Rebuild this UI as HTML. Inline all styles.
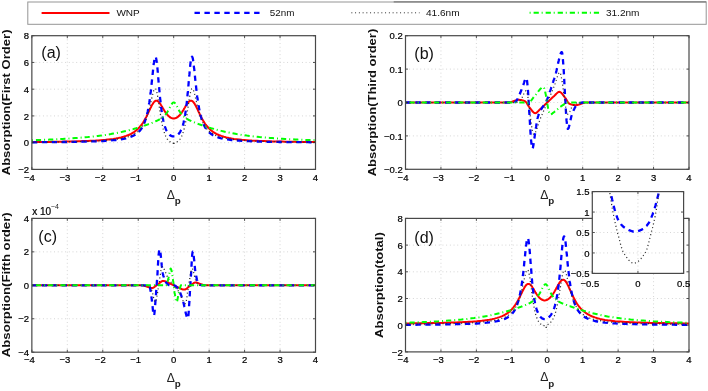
<!DOCTYPE html>
<html><head><meta charset="utf-8"><style>html,body{margin:0;padding:0;background:#fff;overflow:hidden;width:708px;height:391px;}
svg{display:block;will-change:transform;filter:blur(0.35px);}
text{font-family:'Liberation Sans', sans-serif;fill:#1a1a1a;}
.tk{font-size:9.5px;fill:#000;stroke:#000;stroke-width:0.22px;}
.tks{font-size:7px;}
.lg{font-size:9.6px;fill:#111;}
.pl{font-size:16px;fill:#111;}
.yl{font-size:11.3px;font-weight:bold;fill:#111;}
.dl{font-size:12.2px;fill:#222;}
.ds{font-size:9.8px;font-weight:bold;fill:#222;}
</style></head><body>
<svg width="708" height="391" viewBox="0 0 708 391"><defs><clipPath id="cA"><rect x="31.86" y="35.7" width="283.64" height="133.7"/></clipPath><clipPath id="cB"><rect x="405.5" y="35.7" width="283.5" height="133.60000000000002"/></clipPath><clipPath id="cC"><rect x="31.86" y="218.4" width="283.64" height="133.79999999999998"/></clipPath><clipPath id="cD"><rect x="405.5" y="218.4" width="283.5" height="133.49999999999997"/></clipPath><clipPath id="cI"><rect x="592.3" y="191.6" width="91.30000000000007" height="81.79999999999998"/></clipPath></defs><rect width="708" height="391" fill="#fff"/><rect x="31.86" y="35.7" width="283.64" height="133.7" fill="#fff"/><path d="M67.31 35.7V169.4 M102.77 35.7V169.4 M138.22 35.7V169.4 M173.68 35.7V169.4 M209.13 35.7V169.4 M244.59 35.7V169.4 M280.05 35.7V169.4 M31.86 142.66H315.5 M31.86 115.92H315.5 M31.86 89.18H315.5 M31.86 62.44H315.5" stroke="#b4b4b4" stroke-width="0.6" stroke-dasharray="0.9 2.8" fill="none"/><polyline points="31.9,142.1 34.4,142.0 37.0,142.0 39.5,142.0 42.0,142.0 44.6,141.9 47.1,141.9 49.7,141.9 52.2,141.8 54.8,141.8 57.3,141.8 59.9,141.7 62.4,141.7 65.0,141.6 67.5,141.6 70.0,141.5 72.6,141.5 75.1,141.4 77.7,141.3 80.2,141.2 82.8,141.1 85.3,141.0 87.9,140.9 90.4,140.8 93.0,140.7 95.5,140.6 98.0,140.4 100.6,140.2 103.1,140.0 105.7,139.8 108.2,139.5 110.8,139.2 113.3,138.9 115.9,138.5 118.4,138.0 121.0,137.4 123.5,136.7 126.0,135.9 128.6,135.0 131.1,133.8 131.3,133.6 131.6,133.5 131.8,133.4 132.0,133.3 132.2,133.2 132.4,133.0 132.6,132.9 132.8,132.8 133.1,132.7 133.3,132.5 133.5,132.4 133.7,132.3 133.9,132.1 134.1,132.0 134.3,131.8 134.5,131.7 134.8,131.5 135.0,131.4 135.2,131.2 135.4,131.0 135.6,130.9 135.8,130.7 136.0,130.5 136.3,130.4 136.5,130.2 136.7,130.0 136.9,129.8 137.1,129.6 137.3,129.4 137.5,129.2 137.7,129.0 138.0,128.8 138.2,128.6 138.4,128.4 138.6,128.2 138.8,128.0 139.0,127.7 139.2,127.5 139.5,127.3 139.7,127.0 139.9,126.8 140.1,126.5 140.3,126.3 140.5,126.0 140.7,125.8 140.9,125.5 141.2,125.2 141.4,124.9 141.6,124.6 141.8,124.4 142.0,124.1 142.2,123.8 142.4,123.4 142.7,123.1 142.9,122.8 143.1,122.5 143.3,122.1 143.5,121.8 143.7,121.5 143.9,121.1 144.1,120.8 144.4,120.4 144.6,120.0 144.8,119.6 145.0,119.3 145.2,118.9 145.4,118.5 145.6,118.1 145.8,117.7 146.1,117.3 146.3,116.9 146.5,116.4 146.7,116.0 146.9,115.6 147.1,115.2 147.3,114.7 147.6,114.3 147.8,113.8 148.0,113.4 148.2,112.9 148.4,112.5 148.6,112.0 148.8,111.6 149.0,111.1 149.3,110.7 149.5,110.2 149.7,109.7 149.9,109.3 150.1,108.8 150.3,108.4 150.5,108.0 150.8,107.5 151.0,107.1 151.2,106.7 151.4,106.2 151.6,105.8 151.8,105.4 152.0,105.0 152.2,104.7 152.5,104.3 152.7,103.9 152.9,103.6 153.1,103.3 153.3,103.0 153.5,102.7 153.7,102.4 154.0,102.1 154.2,101.9 154.4,101.7 154.6,101.5 154.8,101.3 155.0,101.1 155.2,101.0 155.4,100.9 155.7,100.8 155.9,100.7 156.1,100.7 156.3,100.7 156.5,100.7 156.7,100.7 156.9,100.7 157.2,100.8 157.4,100.9 157.6,101.0 157.8,101.1 158.0,101.3 158.2,101.5 158.4,101.6 158.6,101.8 158.9,102.1 159.1,102.3 159.3,102.6 159.5,102.8 159.7,103.1 159.9,103.4 160.1,103.7 160.4,104.0 160.6,104.3 160.8,104.7 161.0,105.0 161.2,105.3 161.4,105.7 161.6,106.0 161.8,106.4 162.1,106.7 162.3,107.1 162.5,107.5 162.7,107.8 162.9,108.2 163.1,108.6 163.3,108.9 163.6,109.3 163.8,109.6 164.0,110.0 164.2,110.3 164.4,110.7 164.6,111.0 164.8,111.3 165.0,111.7 165.3,112.0 165.5,112.3 165.7,112.6 165.9,112.9 166.1,113.2 166.3,113.5 166.5,113.8 166.7,114.0 167.0,114.3 167.2,114.6 167.4,114.8 167.6,115.1 167.8,115.3 168.0,115.5 168.2,115.7 168.5,116.0 168.7,116.2 168.9,116.3 169.1,116.5 169.3,116.7 169.5,116.9 169.7,117.0 169.9,117.2 170.2,117.3 170.4,117.5 170.6,117.6 170.8,117.7 171.0,117.8 171.2,117.9 171.4,118.0 171.7,118.1 171.9,118.2 172.1,118.2 172.3,118.3 172.5,118.3 172.7,118.4 172.9,118.4 173.1,118.4 173.4,118.5 173.6,118.5 173.8,118.5 174.0,118.5 174.2,118.4 174.4,118.4 174.6,118.4 174.9,118.3 175.1,118.3 175.3,118.2 175.5,118.2 175.7,118.1 175.9,118.0 176.1,117.9 176.3,117.8 176.6,117.7 176.8,117.6 177.0,117.5 177.2,117.3 177.4,117.2 177.6,117.0 177.8,116.9 178.1,116.7 178.3,116.5 178.5,116.3 178.7,116.2 178.9,116.0 179.1,115.7 179.3,115.5 179.5,115.3 179.8,115.1 180.0,114.8 180.2,114.6 180.4,114.3 180.6,114.0 180.8,113.8 181.0,113.5 181.3,113.2 181.5,112.9 181.7,112.6 181.9,112.3 182.1,112.0 182.3,111.7 182.5,111.3 182.7,111.0 183.0,110.7 183.2,110.3 183.4,110.0 183.6,109.6 183.8,109.3 184.0,108.9 184.2,108.6 184.4,108.2 184.7,107.8 184.9,107.5 185.1,107.1 185.3,106.7 185.5,106.4 185.7,106.0 185.9,105.7 186.2,105.3 186.4,105.0 186.6,104.7 186.8,104.3 187.0,104.0 187.2,103.7 187.4,103.4 187.6,103.1 187.9,102.8 188.1,102.6 188.3,102.3 188.5,102.1 188.7,101.8 188.9,101.6 189.1,101.5 189.4,101.3 189.6,101.1 189.8,101.0 190.0,100.9 190.2,100.8 190.4,100.7 190.6,100.7 190.8,100.7 191.1,100.7 191.3,100.7 191.5,100.7 191.7,100.8 191.9,100.9 192.1,101.0 192.3,101.1 192.6,101.3 192.8,101.5 193.0,101.7 193.2,101.9 193.4,102.1 193.6,102.4 193.8,102.7 194.0,103.0 194.3,103.3 194.5,103.6 194.7,103.9 194.9,104.3 195.1,104.7 195.3,105.0 195.5,105.4 195.8,105.8 196.0,106.2 196.2,106.7 196.4,107.1 196.6,107.5 196.8,108.0 197.0,108.4 197.2,108.8 197.5,109.3 197.7,109.7 197.9,110.2 198.1,110.7 198.3,111.1 198.5,111.6 198.7,112.0 199.0,112.5 199.2,112.9 199.4,113.4 199.6,113.8 199.8,114.3 200.0,114.7 200.2,115.2 200.4,115.6 200.7,116.0 200.9,116.4 201.1,116.9 201.3,117.3 201.5,117.7 201.7,118.1 201.9,118.5 202.2,118.9 202.4,119.3 202.6,119.6 202.8,120.0 203.0,120.4 203.2,120.8 203.4,121.1 203.6,121.5 203.9,121.8 204.1,122.1 204.3,122.5 204.5,122.8 204.7,123.1 204.9,123.4 205.1,123.8 205.3,124.1 205.6,124.4 205.8,124.6 206.0,124.9 206.2,125.2 206.4,125.5 206.6,125.8 206.8,126.0 207.1,126.3 207.3,126.5 207.5,126.8 207.7,127.0 207.9,127.3 208.1,127.5 208.3,127.7 208.5,128.0 208.8,128.2 209.0,128.4 209.2,128.6 209.4,128.8 209.6,129.0 209.8,129.2 210.0,129.4 210.3,129.6 210.5,129.8 210.7,130.0 210.9,130.2 211.1,130.4 211.3,130.5 211.5,130.7 211.7,130.9 212.0,131.0 212.2,131.2 212.4,131.4 212.6,131.5 212.8,131.7 213.0,131.8 213.2,132.0 213.5,132.1 213.7,132.3 213.9,132.4 214.1,132.5 214.3,132.7 214.5,132.8 214.7,132.9 214.9,133.0 215.2,133.2 215.4,133.3 215.6,133.4 215.8,133.5 216.0,133.6 216.2,133.8 218.8,135.0 221.3,135.9 223.9,136.7 226.4,137.4 229.0,138.0 231.5,138.5 234.0,138.9 236.6,139.2 239.1,139.5 241.7,139.8 244.2,140.0 246.8,140.2 249.3,140.4 251.9,140.6 254.4,140.7 257.0,140.8 259.5,140.9 262.0,141.0 264.6,141.1 267.1,141.2 269.7,141.3 272.2,141.4 274.8,141.5 277.3,141.5 279.9,141.6 282.4,141.6 285.0,141.7 287.5,141.7 290.0,141.8 292.6,141.8 295.1,141.8 297.7,141.9 300.2,141.9 302.8,141.9 305.3,142.0 307.9,142.0 310.4,142.0 313.0,142.0 315.5,142.1" fill="none" stroke="#ff0000" stroke-width="2" stroke-linejoin="round" clip-path="url(#cA)"/><polyline points="31.9,142.3 34.4,142.3 37.0,142.3 39.5,142.2 42.0,142.2 44.6,142.2 47.1,142.2 49.7,142.2 52.2,142.1 54.8,142.1 57.3,142.1 59.9,142.1 62.4,142.0 65.0,142.0 67.5,142.0 70.0,141.9 72.6,141.9 75.1,141.8 77.7,141.8 80.2,141.8 82.8,141.7 85.3,141.6 87.9,141.6 90.4,141.5 93.0,141.4 95.5,141.3 98.0,141.2 100.6,141.1 103.1,141.0 105.7,140.8 108.2,140.6 110.8,140.5 113.3,140.2 115.9,140.0 118.4,139.6 121.0,139.3 123.5,138.8 126.0,138.3 128.6,137.6 131.1,136.7 131.3,136.6 131.6,136.5 131.8,136.4 132.0,136.3 132.2,136.2 132.4,136.1 132.6,136.0 132.8,135.9 133.1,135.8 133.3,135.7 133.5,135.6 133.7,135.5 133.9,135.4 134.1,135.3 134.3,135.2 134.5,135.0 134.8,134.9 135.0,134.8 135.2,134.7 135.4,134.5 135.6,134.4 135.8,134.2 136.0,134.1 136.3,133.9 136.5,133.8 136.7,133.6 136.9,133.5 137.1,133.3 137.3,133.1 137.5,133.0 137.7,132.8 138.0,132.6 138.2,132.4 138.4,132.2 138.6,132.0 138.8,131.8 139.0,131.6 139.2,131.3 139.5,131.1 139.7,130.9 139.9,130.6 140.1,130.4 140.3,130.1 140.5,129.9 140.7,129.6 140.9,129.3 141.2,129.0 141.4,128.7 141.6,128.4 141.8,128.0 142.0,127.7 142.2,127.3 142.4,127.0 142.7,126.6 142.9,126.2 143.1,125.8 143.3,125.3 143.5,124.9 143.7,124.4 143.9,124.0 144.1,123.5 144.4,123.0 144.6,122.4 144.8,121.9 145.0,121.3 145.2,120.7 145.4,120.0 145.6,119.4 145.8,118.7 146.1,118.0 146.3,117.2 146.5,116.5 146.7,115.7 146.9,114.8 147.1,113.9 147.3,113.0 147.6,112.0 147.8,111.0 148.0,110.0 148.2,108.9 148.4,107.8 148.6,106.6 148.8,105.3 149.0,104.0 149.3,102.7 149.5,101.2 149.7,99.8 149.9,98.2 150.1,96.7 150.3,95.0 150.5,93.3 150.8,91.5 151.0,89.7 151.2,87.8 151.4,85.9 151.6,83.9 151.8,81.9 152.0,79.8 152.2,77.8 152.5,75.7 152.7,73.6 152.9,71.6 153.1,69.6 153.3,67.6 153.5,65.8 153.7,64.0 154.0,62.4 154.2,60.9 154.4,59.6 154.6,58.5 154.8,57.7 155.0,57.1 155.2,56.7 155.4,56.7 155.7,56.9 155.9,57.4 156.1,58.2 156.3,59.2 156.5,60.5 156.7,62.0 156.9,63.8 157.2,65.7 157.4,67.8 157.6,70.0 157.8,72.3 158.0,74.7 158.2,77.2 158.4,79.6 158.6,82.1 158.9,84.6 159.1,87.0 159.3,89.4 159.5,91.7 159.7,94.0 159.9,96.2 160.1,98.3 160.4,100.3 160.6,102.3 160.8,104.1 161.0,105.9 161.2,107.6 161.4,109.2 161.6,110.8 161.8,112.3 162.1,113.6 162.3,115.0 162.5,116.2 162.7,117.4 162.9,118.5 163.1,119.6 163.3,120.6 163.6,121.6 163.8,122.5 164.0,123.3 164.2,124.1 164.4,124.9 164.6,125.6 164.8,126.3 165.0,127.0 165.3,127.6 165.5,128.1 165.7,128.7 165.9,129.2 166.1,129.7 166.3,130.2 166.5,130.6 166.7,131.0 167.0,131.4 167.2,131.8 167.4,132.1 167.6,132.5 167.8,132.8 168.0,133.1 168.2,133.4 168.5,133.6 168.7,133.9 168.9,134.1 169.1,134.3 169.3,134.5 169.5,134.7 169.7,134.9 169.9,135.1 170.2,135.2 170.4,135.4 170.6,135.5 170.8,135.6 171.0,135.8 171.2,135.9 171.4,136.0 171.7,136.0 171.9,136.1 172.1,136.2 172.3,136.3 172.5,136.3 172.7,136.3 172.9,136.4 173.1,136.4 173.4,136.4 173.6,136.4 173.8,136.4 174.0,136.4 174.2,136.4 174.4,136.4 174.6,136.3 174.9,136.3 175.1,136.3 175.3,136.2 175.5,136.1 175.7,136.0 175.9,136.0 176.1,135.9 176.3,135.8 176.6,135.6 176.8,135.5 177.0,135.4 177.2,135.2 177.4,135.1 177.6,134.9 177.8,134.7 178.1,134.5 178.3,134.3 178.5,134.1 178.7,133.9 178.9,133.6 179.1,133.4 179.3,133.1 179.5,132.8 179.8,132.5 180.0,132.1 180.2,131.8 180.4,131.4 180.6,131.0 180.8,130.6 181.0,130.2 181.3,129.7 181.5,129.2 181.7,128.7 181.9,128.1 182.1,127.6 182.3,127.0 182.5,126.3 182.7,125.6 183.0,124.9 183.2,124.1 183.4,123.3 183.6,122.5 183.8,121.6 184.0,120.6 184.2,119.6 184.4,118.5 184.7,117.4 184.9,116.2 185.1,115.0 185.3,113.6 185.5,112.3 185.7,110.8 185.9,109.2 186.2,107.6 186.4,105.9 186.6,104.1 186.8,102.3 187.0,100.3 187.2,98.3 187.4,96.2 187.6,94.0 187.9,91.7 188.1,89.4 188.3,87.0 188.5,84.6 188.7,82.1 188.9,79.6 189.1,77.2 189.4,74.7 189.6,72.3 189.8,70.0 190.0,67.8 190.2,65.7 190.4,63.8 190.6,62.0 190.8,60.5 191.1,59.2 191.3,58.2 191.5,57.4 191.7,56.9 191.9,56.7 192.1,56.7 192.3,57.1 192.6,57.7 192.8,58.5 193.0,59.6 193.2,60.9 193.4,62.4 193.6,64.0 193.8,65.8 194.0,67.6 194.3,69.6 194.5,71.6 194.7,73.6 194.9,75.7 195.1,77.8 195.3,79.8 195.5,81.9 195.8,83.9 196.0,85.9 196.2,87.8 196.4,89.7 196.6,91.5 196.8,93.3 197.0,95.0 197.2,96.7 197.5,98.2 197.7,99.8 197.9,101.2 198.1,102.7 198.3,104.0 198.5,105.3 198.7,106.6 199.0,107.8 199.2,108.9 199.4,110.0 199.6,111.0 199.8,112.0 200.0,113.0 200.2,113.9 200.4,114.8 200.7,115.7 200.9,116.5 201.1,117.2 201.3,118.0 201.5,118.7 201.7,119.4 201.9,120.0 202.2,120.7 202.4,121.3 202.6,121.9 202.8,122.4 203.0,123.0 203.2,123.5 203.4,124.0 203.6,124.4 203.9,124.9 204.1,125.3 204.3,125.8 204.5,126.2 204.7,126.6 204.9,127.0 205.1,127.3 205.3,127.7 205.6,128.0 205.8,128.4 206.0,128.7 206.2,129.0 206.4,129.3 206.6,129.6 206.8,129.9 207.1,130.1 207.3,130.4 207.5,130.6 207.7,130.9 207.9,131.1 208.1,131.3 208.3,131.6 208.5,131.8 208.8,132.0 209.0,132.2 209.2,132.4 209.4,132.6 209.6,132.8 209.8,133.0 210.0,133.1 210.3,133.3 210.5,133.5 210.7,133.6 210.9,133.8 211.1,133.9 211.3,134.1 211.5,134.2 211.7,134.4 212.0,134.5 212.2,134.7 212.4,134.8 212.6,134.9 212.8,135.0 213.0,135.2 213.2,135.3 213.5,135.4 213.7,135.5 213.9,135.6 214.1,135.7 214.3,135.8 214.5,135.9 214.7,136.0 214.9,136.1 215.2,136.2 215.4,136.3 215.6,136.4 215.8,136.5 216.0,136.6 216.2,136.7 218.8,137.6 221.3,138.3 223.9,138.8 226.4,139.3 229.0,139.6 231.5,140.0 234.0,140.2 236.6,140.5 239.1,140.6 241.7,140.8 244.2,141.0 246.8,141.1 249.3,141.2 251.9,141.3 254.4,141.4 257.0,141.5 259.5,141.6 262.0,141.6 264.6,141.7 267.1,141.8 269.7,141.8 272.2,141.8 274.8,141.9 277.3,141.9 279.9,142.0 282.4,142.0 285.0,142.0 287.5,142.1 290.0,142.1 292.6,142.1 295.1,142.1 297.7,142.2 300.2,142.2 302.8,142.2 305.3,142.2 307.9,142.2 310.4,142.3 313.0,142.3 315.5,142.3" fill="none" stroke="#0000ff" stroke-width="2.3" stroke-dasharray="5.4 4.5" stroke-linejoin="round" clip-path="url(#cA)"/><polyline points="31.9,142.2 34.4,142.2 37.0,142.1 39.5,142.1 42.0,142.1 44.6,142.1 47.1,142.0 49.7,142.0 52.2,142.0 54.8,142.0 57.3,141.9 59.9,141.9 62.4,141.9 65.0,141.8 67.5,141.8 70.0,141.7 72.6,141.7 75.1,141.6 77.7,141.6 80.2,141.5 82.8,141.4 85.3,141.3 87.9,141.3 90.4,141.2 93.0,141.1 95.5,141.0 98.0,140.8 100.6,140.7 103.1,140.5 105.7,140.3 108.2,140.1 110.8,139.9 113.3,139.6 115.9,139.3 118.4,138.9 121.0,138.5 123.5,138.0 126.0,137.4 128.6,136.6 131.1,135.6 131.3,135.5 131.6,135.5 131.8,135.4 132.0,135.3 132.2,135.2 132.4,135.1 132.6,135.0 132.8,134.9 133.1,134.8 133.3,134.6 133.5,134.5 133.7,134.4 133.9,134.3 134.1,134.2 134.3,134.1 134.5,133.9 134.8,133.8 135.0,133.7 135.2,133.5 135.4,133.4 135.6,133.3 135.8,133.1 136.0,133.0 136.3,132.8 136.5,132.7 136.7,132.5 136.9,132.4 137.1,132.2 137.3,132.0 137.5,131.9 137.7,131.7 138.0,131.5 138.2,131.3 138.4,131.1 138.6,130.9 138.8,130.7 139.0,130.5 139.2,130.3 139.5,130.1 139.7,129.9 139.9,129.6 140.1,129.4 140.3,129.2 140.5,128.9 140.7,128.7 140.9,128.4 141.2,128.1 141.4,127.8 141.6,127.6 141.8,127.3 142.0,127.0 142.2,126.7 142.4,126.3 142.7,126.0 142.9,125.7 143.1,125.3 143.3,125.0 143.5,124.6 143.7,124.2 143.9,123.8 144.1,123.4 144.4,123.0 144.6,122.5 144.8,122.1 145.0,121.6 145.2,121.2 145.4,120.7 145.6,120.2 145.8,119.7 146.1,119.1 146.3,118.6 146.5,118.0 146.7,117.4 146.9,116.8 147.1,116.2 147.3,115.6 147.6,114.9 147.8,114.2 148.0,113.5 148.2,112.8 148.4,112.1 148.6,111.3 148.8,110.5 149.0,109.7 149.3,108.9 149.5,108.1 149.7,107.2 149.9,106.3 150.1,105.5 150.3,104.6 150.5,103.6 150.8,102.7 151.0,101.8 151.2,100.8 151.4,99.9 151.6,98.9 151.8,98.0 152.0,97.1 152.2,96.1 152.5,95.3 152.7,94.4 152.9,93.5 153.1,92.7 153.3,92.0 153.5,91.3 153.7,90.7 154.0,90.1 154.2,89.6 154.4,89.2 154.6,88.9 154.8,88.7 155.0,88.6 155.2,88.6 155.4,88.7 155.7,88.9 155.9,89.3 156.1,89.8 156.3,90.3 156.5,91.0 156.7,91.9 156.9,92.8 157.2,93.8 157.4,94.9 157.6,96.0 157.8,97.3 158.0,98.6 158.2,99.9 158.4,101.3 158.6,102.8 158.9,104.2 159.1,105.7 159.3,107.1 159.5,108.6 159.7,110.0 159.9,111.4 160.1,112.8 160.4,114.2 160.6,115.6 160.8,116.9 161.0,118.1 161.2,119.4 161.4,120.6 161.6,121.7 161.8,122.8 162.1,123.9 162.3,124.9 162.5,125.9 162.7,126.8 162.9,127.7 163.1,128.6 163.3,129.4 163.6,130.2 163.8,130.9 164.0,131.6 164.2,132.3 164.4,132.9 164.6,133.6 164.8,134.1 165.0,134.7 165.3,135.2 165.5,135.7 165.7,136.2 165.9,136.6 166.1,137.1 166.3,137.5 166.5,137.8 166.7,138.2 167.0,138.5 167.2,138.9 167.4,139.2 167.6,139.5 167.8,139.7 168.0,140.0 168.2,140.3 168.5,140.5 168.7,140.7 168.9,140.9 169.1,141.1 169.3,141.3 169.5,141.5 169.7,141.6 169.9,141.8 170.2,141.9 170.4,142.0 170.6,142.2 170.8,142.3 171.0,142.4 171.2,142.5 171.4,142.5 171.7,142.6 171.9,142.7 172.1,142.8 172.3,142.8 172.5,142.9 172.7,142.9 172.9,143.0 173.1,143.1 173.4,143.5 173.6,145.0 173.8,145.0 174.0,143.5 174.2,143.1 174.4,143.0 174.6,142.9 174.9,142.9 175.1,142.8 175.3,142.8 175.5,142.7 175.7,142.6 175.9,142.5 176.1,142.5 176.3,142.4 176.6,142.3 176.8,142.2 177.0,142.0 177.2,141.9 177.4,141.8 177.6,141.6 177.8,141.5 178.1,141.3 178.3,141.1 178.5,140.9 178.7,140.7 178.9,140.5 179.1,140.3 179.3,140.0 179.5,139.7 179.8,139.5 180.0,139.2 180.2,138.9 180.4,138.5 180.6,138.2 180.8,137.8 181.0,137.5 181.3,137.1 181.5,136.6 181.7,136.2 181.9,135.7 182.1,135.2 182.3,134.7 182.5,134.1 182.7,133.6 183.0,132.9 183.2,132.3 183.4,131.6 183.6,130.9 183.8,130.2 184.0,129.4 184.2,128.6 184.4,127.7 184.7,126.8 184.9,125.9 185.1,124.9 185.3,123.9 185.5,122.8 185.7,121.7 185.9,120.6 186.2,119.4 186.4,118.1 186.6,116.9 186.8,115.6 187.0,114.2 187.2,112.8 187.4,111.4 187.6,110.0 187.9,108.6 188.1,107.1 188.3,105.7 188.5,104.2 188.7,102.8 188.9,101.3 189.1,99.9 189.4,98.6 189.6,97.3 189.8,96.0 190.0,94.9 190.2,93.8 190.4,92.8 190.6,91.9 190.8,91.0 191.1,90.3 191.3,89.8 191.5,89.3 191.7,88.9 191.9,88.7 192.1,88.6 192.3,88.6 192.6,88.7 192.8,88.9 193.0,89.2 193.2,89.6 193.4,90.1 193.6,90.7 193.8,91.3 194.0,92.0 194.3,92.7 194.5,93.5 194.7,94.4 194.9,95.3 195.1,96.1 195.3,97.1 195.5,98.0 195.8,98.9 196.0,99.9 196.2,100.8 196.4,101.8 196.6,102.7 196.8,103.6 197.0,104.6 197.2,105.5 197.5,106.3 197.7,107.2 197.9,108.1 198.1,108.9 198.3,109.7 198.5,110.5 198.7,111.3 199.0,112.1 199.2,112.8 199.4,113.5 199.6,114.2 199.8,114.9 200.0,115.6 200.2,116.2 200.4,116.8 200.7,117.4 200.9,118.0 201.1,118.6 201.3,119.1 201.5,119.7 201.7,120.2 201.9,120.7 202.2,121.2 202.4,121.6 202.6,122.1 202.8,122.5 203.0,123.0 203.2,123.4 203.4,123.8 203.6,124.2 203.9,124.6 204.1,125.0 204.3,125.3 204.5,125.7 204.7,126.0 204.9,126.3 205.1,126.7 205.3,127.0 205.6,127.3 205.8,127.6 206.0,127.8 206.2,128.1 206.4,128.4 206.6,128.7 206.8,128.9 207.1,129.2 207.3,129.4 207.5,129.6 207.7,129.9 207.9,130.1 208.1,130.3 208.3,130.5 208.5,130.7 208.8,130.9 209.0,131.1 209.2,131.3 209.4,131.5 209.6,131.7 209.8,131.9 210.0,132.0 210.3,132.2 210.5,132.4 210.7,132.5 210.9,132.7 211.1,132.8 211.3,133.0 211.5,133.1 211.7,133.3 212.0,133.4 212.2,133.5 212.4,133.7 212.6,133.8 212.8,133.9 213.0,134.1 213.2,134.2 213.5,134.3 213.7,134.4 213.9,134.5 214.1,134.6 214.3,134.8 214.5,134.9 214.7,135.0 214.9,135.1 215.2,135.2 215.4,135.3 215.6,135.4 215.8,135.5 216.0,135.5 216.2,135.6 218.8,136.6 221.3,137.4 223.9,138.0 226.4,138.5 229.0,138.9 231.5,139.3 234.0,139.6 236.6,139.9 239.1,140.1 241.7,140.3 244.2,140.5 246.8,140.7 249.3,140.8 251.9,141.0 254.4,141.1 257.0,141.2 259.5,141.3 262.0,141.3 264.6,141.4 267.1,141.5 269.7,141.6 272.2,141.6 274.8,141.7 277.3,141.7 279.9,141.8 282.4,141.8 285.0,141.9 287.5,141.9 290.0,141.9 292.6,142.0 295.1,142.0 297.7,142.0 300.2,142.0 302.8,142.1 305.3,142.1 307.9,142.1 310.4,142.1 313.0,142.2 315.5,142.2" fill="none" stroke="#303030" stroke-width="1.25" stroke-dasharray="1.1 2.6" stroke-linejoin="round" clip-path="url(#cA)"/><polyline points="31.9,140.2 34.4,140.1 37.0,140.1 39.5,140.0 42.0,139.9 44.6,139.8 47.1,139.7 49.7,139.6 52.2,139.5 54.8,139.3 57.3,139.2 59.9,139.1 62.4,139.0 65.0,138.8 67.5,138.7 70.0,138.5 72.6,138.3 75.1,138.1 77.7,137.9 80.2,137.7 82.8,137.5 85.3,137.3 87.9,137.1 90.4,136.8 93.0,136.5 95.5,136.2 98.0,135.9 100.6,135.6 103.1,135.2 105.7,134.9 108.2,134.5 110.8,134.1 113.3,133.6 115.9,133.1 118.4,132.6 121.0,132.1 123.5,131.5 126.0,130.9 128.6,130.3 131.1,129.6 131.3,129.6 131.6,129.5 131.8,129.5 132.0,129.4 132.2,129.3 132.4,129.3 132.6,129.2 132.8,129.2 133.1,129.1 133.3,129.0 133.5,129.0 133.7,128.9 133.9,128.9 134.1,128.8 134.3,128.7 134.5,128.7 134.8,128.6 135.0,128.6 135.2,128.5 135.4,128.4 135.6,128.4 135.8,128.3 136.0,128.3 136.3,128.2 136.5,128.1 136.7,128.1 136.9,128.0 137.1,127.9 137.3,127.9 137.5,127.8 137.7,127.7 138.0,127.7 138.2,127.6 138.4,127.5 138.6,127.5 138.8,127.4 139.0,127.3 139.2,127.3 139.5,127.2 139.7,127.1 139.9,127.1 140.1,127.0 140.3,126.9 140.5,126.9 140.7,126.8 140.9,126.7 141.2,126.7 141.4,126.6 141.6,126.5 141.8,126.5 142.0,126.4 142.2,126.3 142.4,126.3 142.7,126.2 142.9,126.1 143.1,126.0 143.3,126.0 143.5,125.9 143.7,125.8 143.9,125.8 144.1,125.7 144.4,125.6 144.6,125.5 144.8,125.5 145.0,125.4 145.2,125.3 145.4,125.3 145.6,125.2 145.8,125.1 146.1,125.0 146.3,125.0 146.5,124.9 146.7,124.8 146.9,124.7 147.1,124.7 147.3,124.6 147.6,124.5 147.8,124.4 148.0,124.4 148.2,124.3 148.4,124.2 148.6,124.1 148.8,124.1 149.0,124.0 149.3,123.9 149.5,123.8 149.7,123.7 149.9,123.7 150.1,123.6 150.3,123.5 150.5,123.4 150.8,123.3 151.0,123.3 151.2,123.2 151.4,123.1 151.6,123.0 151.8,122.9 152.0,122.8 152.2,122.8 152.5,122.7 152.7,122.6 152.9,122.5 153.1,122.4 153.3,122.3 153.5,122.2 153.7,122.2 154.0,122.1 154.2,122.0 154.4,121.9 154.6,121.8 154.8,121.7 155.0,121.6 155.2,121.5 155.4,121.4 155.7,121.3 155.9,121.2 156.1,121.1 156.3,121.0 156.5,120.9 156.7,120.8 156.9,120.7 157.2,120.6 157.4,120.5 157.6,120.4 157.8,120.3 158.0,120.2 158.2,120.1 158.4,120.0 158.6,119.9 158.9,119.8 159.1,119.7 159.3,119.5 159.5,119.4 159.7,119.3 159.9,119.2 160.1,119.0 160.4,118.9 160.6,118.8 160.8,118.6 161.0,118.5 161.2,118.4 161.4,118.2 161.6,118.1 161.8,117.9 162.1,117.8 162.3,117.6 162.5,117.4 162.7,117.3 162.9,117.1 163.1,116.9 163.3,116.7 163.6,116.6 163.8,116.4 164.0,116.2 164.2,116.0 164.4,115.8 164.6,115.5 164.8,115.3 165.0,115.1 165.3,114.8 165.5,114.6 165.7,114.3 165.9,114.1 166.1,113.8 166.3,113.5 166.5,113.2 166.7,112.9 167.0,112.6 167.2,112.3 167.4,112.0 167.6,111.6 167.8,111.3 168.0,110.9 168.2,110.6 168.5,110.2 168.7,109.8 168.9,109.4 169.1,109.0 169.3,108.6 169.5,108.2 169.7,107.8 169.9,107.4 170.2,106.9 170.4,106.5 170.6,106.1 170.8,105.7 171.0,105.3 171.2,104.9 171.4,104.6 171.7,104.2 171.9,103.9 172.1,103.6 172.3,103.3 172.5,103.1 172.7,102.9 172.9,102.7 173.1,102.6 173.4,102.5 173.6,102.5 173.8,102.5 174.0,102.5 174.2,102.6 174.4,102.7 174.6,102.9 174.9,103.1 175.1,103.3 175.3,103.6 175.5,103.9 175.7,104.2 175.9,104.6 176.1,104.9 176.3,105.3 176.6,105.7 176.8,106.1 177.0,106.5 177.2,106.9 177.4,107.4 177.6,107.8 177.8,108.2 178.1,108.6 178.3,109.0 178.5,109.4 178.7,109.8 178.9,110.2 179.1,110.6 179.3,110.9 179.5,111.3 179.8,111.6 180.0,112.0 180.2,112.3 180.4,112.6 180.6,112.9 180.8,113.2 181.0,113.5 181.3,113.8 181.5,114.1 181.7,114.3 181.9,114.6 182.1,114.8 182.3,115.1 182.5,115.3 182.7,115.5 183.0,115.8 183.2,116.0 183.4,116.2 183.6,116.4 183.8,116.6 184.0,116.7 184.2,116.9 184.4,117.1 184.7,117.3 184.9,117.4 185.1,117.6 185.3,117.8 185.5,117.9 185.7,118.1 185.9,118.2 186.2,118.4 186.4,118.5 186.6,118.6 186.8,118.8 187.0,118.9 187.2,119.0 187.4,119.2 187.6,119.3 187.9,119.4 188.1,119.5 188.3,119.7 188.5,119.8 188.7,119.9 188.9,120.0 189.1,120.1 189.4,120.2 189.6,120.3 189.8,120.4 190.0,120.5 190.2,120.6 190.4,120.7 190.6,120.8 190.8,120.9 191.1,121.0 191.3,121.1 191.5,121.2 191.7,121.3 191.9,121.4 192.1,121.5 192.3,121.6 192.6,121.7 192.8,121.8 193.0,121.9 193.2,122.0 193.4,122.1 193.6,122.2 193.8,122.2 194.0,122.3 194.3,122.4 194.5,122.5 194.7,122.6 194.9,122.7 195.1,122.8 195.3,122.8 195.5,122.9 195.8,123.0 196.0,123.1 196.2,123.2 196.4,123.3 196.6,123.3 196.8,123.4 197.0,123.5 197.2,123.6 197.5,123.7 197.7,123.7 197.9,123.8 198.1,123.9 198.3,124.0 198.5,124.1 198.7,124.1 199.0,124.2 199.2,124.3 199.4,124.4 199.6,124.4 199.8,124.5 200.0,124.6 200.2,124.7 200.4,124.7 200.7,124.8 200.9,124.9 201.1,125.0 201.3,125.0 201.5,125.1 201.7,125.2 201.9,125.3 202.2,125.3 202.4,125.4 202.6,125.5 202.8,125.5 203.0,125.6 203.2,125.7 203.4,125.8 203.6,125.8 203.9,125.9 204.1,126.0 204.3,126.0 204.5,126.1 204.7,126.2 204.9,126.3 205.1,126.3 205.3,126.4 205.6,126.5 205.8,126.5 206.0,126.6 206.2,126.7 206.4,126.7 206.6,126.8 206.8,126.9 207.1,126.9 207.3,127.0 207.5,127.1 207.7,127.1 207.9,127.2 208.1,127.3 208.3,127.3 208.5,127.4 208.8,127.5 209.0,127.5 209.2,127.6 209.4,127.7 209.6,127.7 209.8,127.8 210.0,127.9 210.3,127.9 210.5,128.0 210.7,128.1 210.9,128.1 211.1,128.2 211.3,128.3 211.5,128.3 211.7,128.4 212.0,128.4 212.2,128.5 212.4,128.6 212.6,128.6 212.8,128.7 213.0,128.7 213.2,128.8 213.5,128.9 213.7,128.9 213.9,129.0 214.1,129.0 214.3,129.1 214.5,129.2 214.7,129.2 214.9,129.3 215.2,129.3 215.4,129.4 215.6,129.5 215.8,129.5 216.0,129.6 216.2,129.6 218.8,130.3 221.3,130.9 223.9,131.5 226.4,132.1 229.0,132.6 231.5,133.1 234.0,133.6 236.6,134.1 239.1,134.5 241.7,134.9 244.2,135.2 246.8,135.6 249.3,135.9 251.9,136.2 254.4,136.5 257.0,136.8 259.5,137.1 262.0,137.3 264.6,137.5 267.1,137.7 269.7,137.9 272.2,138.1 274.8,138.3 277.3,138.5 279.9,138.7 282.4,138.8 285.0,139.0 287.5,139.1 290.0,139.2 292.6,139.3 295.1,139.5 297.7,139.6 300.2,139.7 302.8,139.8 305.3,139.9 307.9,140.0 310.4,140.1 313.0,140.1 315.5,140.2" fill="none" stroke="#00ff00" stroke-width="2" stroke-dasharray="1 3 5.2 3" stroke-linejoin="round" clip-path="url(#cA)"/><path d="M31.86 169.4v-2.5M31.86 35.7v2.5 M67.31 169.4v-2.5M67.31 35.7v2.5 M102.77 169.4v-2.5M102.77 35.7v2.5 M138.22 169.4v-2.5M138.22 35.7v2.5 M173.68 169.4v-2.5M173.68 35.7v2.5 M209.13 169.4v-2.5M209.13 35.7v2.5 M244.59 169.4v-2.5M244.59 35.7v2.5 M280.05 169.4v-2.5M280.05 35.7v2.5 M315.50 169.4v-2.5M315.50 35.7v2.5 M31.86 169.40h2.5M315.5 169.40h-2.5 M31.86 142.66h2.5M315.5 142.66h-2.5 M31.86 115.92h2.5M315.5 115.92h-2.5 M31.86 89.18h2.5M315.5 89.18h-2.5 M31.86 62.44h2.5M315.5 62.44h-2.5 M31.86 35.70h2.5M315.5 35.70h-2.5" stroke="#262626" stroke-width="0.8" fill="none"/><rect x="31.86" y="35.7" width="283.64" height="133.7" fill="none" stroke="#484848" stroke-width="1.2"/><text x="29.36" y="180.60" text-anchor="middle" class="tk">−4</text><text x="64.81" y="180.60" text-anchor="middle" class="tk">−3</text><text x="100.27" y="180.60" text-anchor="middle" class="tk">−2</text><text x="135.72" y="180.60" text-anchor="middle" class="tk">−1</text><text x="173.68" y="180.60" text-anchor="middle" class="tk">0</text><text x="209.13" y="180.60" text-anchor="middle" class="tk">1</text><text x="244.59" y="180.60" text-anchor="middle" class="tk">2</text><text x="280.05" y="180.60" text-anchor="middle" class="tk">3</text><text x="315.50" y="180.60" text-anchor="middle" class="tk">4</text><text x="29.06" y="173.00" text-anchor="end" class="tk">−2</text><text x="29.06" y="146.26" text-anchor="end" class="tk">0</text><text x="29.06" y="119.52" text-anchor="end" class="tk">2</text><text x="29.06" y="92.78" text-anchor="end" class="tk">4</text><text x="29.06" y="66.04" text-anchor="end" class="tk">6</text><text x="29.06" y="39.30" text-anchor="end" class="tk">8</text><rect x="405.5" y="35.7" width="283.5" height="133.60000000000002" fill="#fff"/><path d="M440.94 35.7V169.3 M476.38 35.7V169.3 M511.81 35.7V169.3 M547.25 35.7V169.3 M582.69 35.7V169.3 M618.12 35.7V169.3 M653.56 35.7V169.3 M405.5 135.90H689.0 M405.5 102.50H689.0 M405.5 69.10H689.0" stroke="#b4b4b4" stroke-width="0.6" stroke-dasharray="0.9 2.8" fill="none"/><polyline points="405.5,102.5 408.0,102.5 410.6,102.5 413.1,102.5 415.7,102.5 418.2,102.5 420.8,102.5 423.3,102.5 425.9,102.5 428.4,102.5 430.9,102.5 433.5,102.5 436.0,102.5 438.6,102.5 441.1,102.5 443.7,102.5 446.2,102.5 448.8,102.5 451.3,102.5 453.8,102.5 456.4,102.5 458.9,102.5 461.5,102.5 464.0,102.5 466.6,102.5 469.1,102.5 471.6,102.5 474.2,102.5 476.7,102.5 479.3,102.5 481.8,102.5 484.4,102.5 486.9,102.5 489.5,102.5 492.0,102.5 494.5,102.5 497.1,102.5 499.6,102.5 502.2,102.5 504.7,102.5 504.9,102.5 505.2,102.5 505.4,102.5 505.6,102.5 505.8,102.5 506.0,102.5 506.2,102.5 506.4,102.5 506.6,102.5 506.9,102.5 507.1,102.5 507.3,102.5 507.5,102.5 507.7,102.5 507.9,102.5 508.1,102.5 508.3,102.5 508.6,102.5 508.8,102.5 509.0,102.5 509.2,102.4 509.4,102.4 509.6,102.4 509.8,102.3 510.1,102.3 510.3,102.3 510.5,102.2 510.7,102.1 510.9,102.1 511.1,102.0 511.3,102.0 511.5,101.9 511.8,101.8 512.0,101.8 512.2,101.7 512.4,101.6 512.6,101.5 512.8,101.4 513.0,101.4 513.3,101.3 513.5,101.2 513.7,101.1 513.9,101.0 514.1,101.0 514.3,100.9 514.5,100.8 514.7,100.7 515.0,100.7 515.2,100.6 515.4,100.5 515.6,100.4 515.8,100.4 516.0,100.3 516.2,100.2 516.4,100.2 516.7,100.1 516.9,100.1 517.1,100.0 517.3,100.0 517.5,100.0 517.7,99.9 517.9,99.9 518.2,99.9 518.4,99.8 518.6,99.8 518.8,99.8 519.0,99.8 519.2,99.8 519.4,99.8 519.6,99.9 519.9,99.9 520.1,99.9 520.3,99.9 520.5,99.9 520.7,100.0 520.9,100.0 521.1,100.0 521.4,100.1 521.6,100.1 521.8,100.2 522.0,100.2 522.2,100.3 522.4,100.3 522.6,100.4 522.8,100.4 523.1,100.5 523.3,100.6 523.5,100.6 523.7,100.7 523.9,100.8 524.1,100.9 524.3,100.9 524.5,101.0 524.8,101.1 525.0,101.2 525.2,101.3 525.4,101.5 525.6,101.6 525.8,101.9 526.0,102.1 526.3,102.4 526.5,102.7 526.7,103.0 526.9,103.3 527.1,103.7 527.3,104.0 527.5,104.4 527.7,104.8 528.0,105.1 528.2,105.5 528.4,105.9 528.6,106.2 528.8,106.5 529.0,106.8 529.2,107.1 529.5,107.4 529.7,107.7 529.9,107.9 530.1,108.2 530.3,108.5 530.5,108.7 530.7,109.0 530.9,109.3 531.2,109.6 531.4,109.9 531.6,110.2 531.8,110.5 532.0,110.7 532.2,111.0 532.4,111.3 532.6,111.5 532.9,111.7 533.1,112.0 533.3,112.2 533.5,112.4 533.7,112.6 533.9,112.7 534.1,112.9 534.4,113.0 534.6,113.1 534.8,113.1 535.0,113.2 535.2,113.2 535.4,113.2 535.6,113.1 535.8,113.1 536.1,113.0 536.3,112.9 536.5,112.7 536.7,112.6 536.9,112.4 537.1,112.2 537.3,112.1 537.6,111.8 537.8,111.6 538.0,111.4 538.2,111.2 538.4,111.0 538.6,110.7 538.8,110.5 539.0,110.3 539.3,110.1 539.5,109.8 539.7,109.6 539.9,109.4 540.1,109.2 540.3,109.0 540.5,108.9 540.7,108.7 541.0,108.5 541.2,108.3 541.4,108.1 541.6,107.9 541.8,107.7 542.0,107.5 542.2,107.3 542.5,107.1 542.7,106.9 542.9,106.7 543.1,106.5 543.3,106.3 543.5,106.1 543.7,105.9 543.9,105.7 544.2,105.5 544.4,105.3 544.6,105.1 544.8,104.9 545.0,104.6 545.2,104.4 545.4,104.2 545.7,104.0 545.9,103.8 546.1,103.6 546.3,103.4 546.5,103.2 546.7,103.0 546.9,102.8 547.1,102.6 547.4,102.4 547.6,102.2 547.8,102.0 548.0,101.8 548.2,101.6 548.4,101.4 548.6,101.2 548.8,101.0 549.1,100.8 549.3,100.6 549.5,100.4 549.7,100.1 549.9,99.9 550.1,99.7 550.3,99.5 550.6,99.3 550.8,99.1 551.0,98.9 551.2,98.7 551.4,98.5 551.6,98.3 551.8,98.1 552.0,97.9 552.3,97.7 552.5,97.5 552.7,97.3 552.9,97.1 553.1,96.9 553.3,96.7 553.5,96.5 553.8,96.3 554.0,96.1 554.2,96.0 554.4,95.8 554.6,95.6 554.8,95.4 555.0,95.2 555.2,94.9 555.5,94.7 555.7,94.5 555.9,94.3 556.1,94.0 556.3,93.8 556.5,93.6 556.7,93.4 556.9,93.2 557.2,92.9 557.4,92.8 557.6,92.6 557.8,92.4 558.0,92.3 558.2,92.1 558.4,92.0 558.7,91.9 558.9,91.9 559.1,91.8 559.3,91.8 559.5,91.8 559.7,91.9 559.9,91.9 560.1,92.0 560.4,92.1 560.6,92.3 560.8,92.4 561.0,92.6 561.2,92.8 561.4,93.0 561.6,93.3 561.9,93.5 562.1,93.7 562.3,94.0 562.5,94.3 562.7,94.5 562.9,94.8 563.1,95.1 563.3,95.4 563.6,95.7 563.8,96.0 564.0,96.3 564.2,96.5 564.4,96.8 564.6,97.1 564.8,97.3 565.0,97.6 565.3,97.9 565.5,98.2 565.7,98.5 565.9,98.8 566.1,99.1 566.3,99.5 566.5,99.9 566.8,100.2 567.0,100.6 567.2,101.0 567.4,101.3 567.6,101.7 567.8,102.0 568.0,102.3 568.2,102.6 568.5,102.9 568.7,103.1 568.9,103.4 569.1,103.5 569.3,103.7 569.5,103.8 569.7,103.9 570.0,104.0 570.2,104.1 570.4,104.1 570.6,104.2 570.8,104.3 571.0,104.4 571.2,104.4 571.4,104.5 571.7,104.6 571.9,104.6 572.1,104.7 572.3,104.7 572.5,104.8 572.7,104.8 572.9,104.9 573.1,104.9 573.4,105.0 573.6,105.0 573.8,105.0 574.0,105.1 574.2,105.1 574.4,105.1 574.6,105.1 574.9,105.1 575.1,105.2 575.3,105.2 575.5,105.2 575.7,105.2 575.9,105.2 576.1,105.2 576.3,105.1 576.6,105.1 576.8,105.1 577.0,105.0 577.2,105.0 577.4,105.0 577.6,104.9 577.8,104.9 578.1,104.8 578.3,104.8 578.5,104.7 578.7,104.6 578.9,104.6 579.1,104.5 579.3,104.4 579.5,104.3 579.8,104.3 580.0,104.2 580.2,104.1 580.4,104.0 580.6,104.0 580.8,103.9 581.0,103.8 581.2,103.7 581.5,103.6 581.7,103.6 581.9,103.5 582.1,103.4 582.3,103.3 582.5,103.2 582.7,103.2 583.0,103.1 583.2,103.0 583.4,103.0 583.6,102.9 583.8,102.9 584.0,102.8 584.2,102.7 584.4,102.7 584.7,102.7 584.9,102.6 585.1,102.6 585.3,102.6 585.5,102.5 585.7,102.5 585.9,102.5 586.2,102.5 586.4,102.5 586.6,102.5 586.8,102.5 587.0,102.5 587.2,102.5 587.4,102.5 587.6,102.5 587.9,102.5 588.1,102.5 588.3,102.5 588.5,102.5 588.7,102.5 588.9,102.5 589.1,102.5 589.3,102.5 589.6,102.5 589.8,102.5 592.3,102.5 594.9,102.5 597.4,102.5 600.0,102.5 602.5,102.5 605.0,102.5 607.6,102.5 610.1,102.5 612.7,102.5 615.2,102.5 617.8,102.5 620.3,102.5 622.9,102.5 625.4,102.5 627.9,102.5 630.5,102.5 633.0,102.5 635.6,102.5 638.1,102.5 640.7,102.5 643.2,102.5 645.7,102.5 648.3,102.5 650.8,102.5 653.4,102.5 655.9,102.5 658.5,102.5 661.0,102.5 663.6,102.5 666.1,102.5 668.6,102.5 671.2,102.5 673.7,102.5 676.3,102.5 678.8,102.5 681.4,102.5 683.9,102.5 686.5,102.5 689.0,102.5" fill="none" stroke="#ff0000" stroke-width="2" stroke-linejoin="round" clip-path="url(#cB)"/><polyline points="405.5,102.5 408.0,102.5 410.6,102.5 413.1,102.5 415.7,102.5 418.2,102.5 420.8,102.5 423.3,102.5 425.9,102.5 428.4,102.5 430.9,102.5 433.5,102.5 436.0,102.5 438.6,102.5 441.1,102.5 443.7,102.5 446.2,102.5 448.8,102.5 451.3,102.5 453.8,102.5 456.4,102.5 458.9,102.5 461.5,102.5 464.0,102.5 466.6,102.5 469.1,102.5 471.6,102.5 474.2,102.5 476.7,102.5 479.3,102.5 481.8,102.5 484.4,102.5 486.9,102.5 489.5,102.5 492.0,102.5 494.5,102.5 497.1,102.5 499.6,102.5 502.2,102.5 504.7,102.5 504.9,102.5 505.2,102.5 505.4,102.5 505.6,102.5 505.8,102.5 506.0,102.5 506.2,102.5 506.4,102.5 506.6,102.5 506.9,102.5 507.1,102.5 507.3,102.5 507.5,102.5 507.7,102.5 507.9,102.5 508.1,102.5 508.3,102.5 508.6,102.5 508.8,102.5 509.0,102.5 509.2,102.5 509.4,102.5 509.6,102.5 509.8,102.5 510.1,102.5 510.3,102.5 510.5,102.5 510.7,102.5 510.9,102.5 511.1,102.5 511.3,102.5 511.5,102.5 511.8,102.5 512.0,102.5 512.2,102.5 512.4,102.5 512.6,102.5 512.8,102.4 513.0,102.4 513.3,102.4 513.5,102.3 513.7,102.3 513.9,102.3 514.1,102.2 514.3,102.1 514.5,102.1 514.7,102.0 515.0,102.0 515.2,101.9 515.4,101.8 515.6,101.7 515.8,101.5 516.0,101.3 516.2,101.1 516.4,100.8 516.7,100.4 516.9,100.0 517.1,99.6 517.3,99.2 517.5,98.8 517.7,98.3 517.9,97.8 518.2,97.4 518.4,96.9 518.6,96.5 518.8,96.0 519.0,95.6 519.2,95.2 519.4,94.7 519.6,94.2 519.9,93.8 520.1,93.3 520.3,92.8 520.5,92.2 520.7,91.7 520.9,91.2 521.1,90.7 521.4,90.1 521.6,89.6 521.8,89.1 522.0,88.6 522.2,88.0 522.4,87.5 522.6,87.0 522.8,86.4 523.1,85.8 523.3,85.2 523.5,84.5 523.7,83.8 523.9,83.1 524.1,82.5 524.3,81.8 524.5,81.2 524.8,80.6 525.0,80.0 525.2,79.5 525.4,79.1 525.6,78.7 525.8,78.4 526.0,78.2 526.3,78.1 526.5,78.2 526.7,78.8 526.9,79.8 527.1,81.2 527.3,83.1 527.5,85.3 527.7,87.8 528.0,90.6 528.2,93.7 528.4,96.9 528.6,100.4 528.8,103.9 529.0,107.6 529.2,111.3 529.5,115.1 529.7,118.8 529.9,122.4 530.1,126.0 530.3,129.5 530.5,132.7 530.7,135.8 530.9,138.7 531.2,141.2 531.4,143.4 531.6,145.3 531.8,146.8 532.0,147.9 532.2,148.5 532.4,148.6 532.6,148.3 532.9,147.7 533.1,146.9 533.3,145.8 533.5,144.5 533.7,143.1 533.9,141.6 534.1,140.0 534.4,138.4 534.6,136.8 534.8,135.3 535.0,133.9 535.2,132.5 535.4,131.2 535.6,129.8 535.8,128.4 536.1,126.9 536.3,125.4 536.5,123.9 536.7,122.5 536.9,121.2 537.1,120.0 537.3,118.9 537.6,118.0 537.8,117.3 538.0,116.6 538.2,116.0 538.4,115.3 538.6,114.8 538.8,114.2 539.0,113.7 539.3,113.1 539.5,112.7 539.7,112.2 539.9,111.7 540.1,111.3 540.3,110.9 540.5,110.5 540.7,110.1 541.0,109.7 541.2,109.3 541.4,109.0 541.6,108.6 541.8,108.3 542.0,108.0 542.2,107.6 542.5,107.3 542.7,107.0 542.9,106.7 543.1,106.4 543.3,106.1 543.5,105.8 543.7,105.5 543.9,105.2 544.2,104.8 544.4,104.5 544.6,104.2 544.8,103.9 545.0,103.5 545.2,103.2 545.4,102.8 545.7,102.4 545.9,102.1 546.1,101.7 546.3,101.2 546.5,100.8 546.7,100.4 546.9,99.9 547.1,99.4 547.4,98.9 547.6,98.4 547.8,97.8 548.0,97.2 548.2,96.6 548.4,96.0 548.6,95.4 548.8,94.8 549.1,94.1 549.3,93.5 549.5,92.9 549.7,92.2 549.9,91.6 550.1,91.0 550.3,90.3 550.6,89.7 550.8,89.1 551.0,88.4 551.2,87.8 551.4,87.2 551.6,86.5 551.8,85.9 552.0,85.2 552.3,84.6 552.5,83.9 552.7,83.3 552.9,82.6 553.1,81.9 553.3,81.3 553.5,80.6 553.8,79.9 554.0,79.2 554.2,78.6 554.4,77.9 554.6,77.2 554.8,76.5 555.0,75.8 555.2,75.1 555.5,74.4 555.7,73.7 555.9,73.0 556.1,72.2 556.3,71.4 556.5,70.6 556.7,69.7 556.9,68.7 557.2,67.8 557.4,66.8 557.6,65.8 557.8,64.8 558.0,63.8 558.2,62.7 558.4,61.8 558.7,60.8 558.9,59.8 559.1,58.9 559.3,58.0 559.5,57.1 559.7,56.3 559.9,55.6 560.1,54.9 560.4,54.2 560.6,53.7 560.8,53.2 561.0,52.8 561.2,52.4 561.4,52.2 561.6,52.1 561.9,52.1 562.1,52.6 562.3,53.6 562.5,55.0 562.7,56.9 562.9,59.3 563.1,61.9 563.3,64.9 563.6,68.2 563.8,71.7 564.0,75.4 564.2,79.2 564.4,83.2 564.6,87.2 564.8,91.3 565.0,95.4 565.3,99.4 565.5,103.3 565.7,107.1 565.9,110.7 566.1,114.2 566.3,117.3 566.5,120.2 566.8,122.7 567.0,124.9 567.2,126.6 567.4,127.9 567.6,128.6 567.8,128.9 568.0,128.8 568.2,128.5 568.5,128.2 568.7,127.7 568.9,127.0 569.1,126.3 569.3,125.5 569.5,124.7 569.7,123.7 570.0,122.8 570.2,121.8 570.4,120.8 570.6,119.8 570.8,118.8 571.0,117.9 571.2,117.0 571.4,116.1 571.7,115.4 571.9,114.7 572.1,114.1 572.3,113.6 572.5,113.1 572.7,112.5 572.9,112.0 573.1,111.5 573.4,110.9 573.6,110.4 573.8,109.9 574.0,109.4 574.2,109.0 574.4,108.5 574.6,108.1 574.9,107.7 575.1,107.3 575.3,106.9 575.5,106.5 575.7,106.2 575.9,105.9 576.1,105.7 576.3,105.4 576.6,105.3 576.8,105.1 577.0,104.9 577.2,104.8 577.4,104.6 577.6,104.5 577.8,104.3 578.1,104.2 578.3,104.1 578.5,103.9 578.7,103.8 578.9,103.7 579.1,103.6 579.3,103.4 579.5,103.3 579.8,103.2 580.0,103.1 580.2,103.0 580.4,103.0 580.6,102.9 580.8,102.8 581.0,102.7 581.2,102.7 581.5,102.6 581.7,102.6 581.9,102.6 582.1,102.5 582.3,102.5 582.5,102.5 582.7,102.5 583.0,102.5 583.2,102.5 583.4,102.5 583.6,102.5 583.8,102.5 584.0,102.5 584.2,102.5 584.4,102.5 584.7,102.5 584.9,102.5 585.1,102.5 585.3,102.5 585.5,102.5 585.7,102.5 585.9,102.5 586.2,102.5 586.4,102.5 586.6,102.5 586.8,102.5 587.0,102.5 587.2,102.5 587.4,102.5 587.6,102.5 587.9,102.5 588.1,102.5 588.3,102.5 588.5,102.5 588.7,102.5 588.9,102.5 589.1,102.5 589.3,102.5 589.6,102.5 589.8,102.5 592.3,102.5 594.9,102.5 597.4,102.5 600.0,102.5 602.5,102.5 605.0,102.5 607.6,102.5 610.1,102.5 612.7,102.5 615.2,102.5 617.8,102.5 620.3,102.5 622.9,102.5 625.4,102.5 627.9,102.5 630.5,102.5 633.0,102.5 635.6,102.5 638.1,102.5 640.7,102.5 643.2,102.5 645.7,102.5 648.3,102.5 650.8,102.5 653.4,102.5 655.9,102.5 658.5,102.5 661.0,102.5 663.6,102.5 666.1,102.5 668.6,102.5 671.2,102.5 673.7,102.5 676.3,102.5 678.8,102.5 681.4,102.5 683.9,102.5 686.5,102.5 689.0,102.5" fill="none" stroke="#0000ff" stroke-width="2.3" stroke-dasharray="5.4 4.5" stroke-linejoin="round" clip-path="url(#cB)"/><polyline points="405.5,102.5 408.0,102.5 410.6,102.5 413.1,102.5 415.7,102.5 418.2,102.5 420.8,102.5 423.3,102.5 425.9,102.5 428.4,102.5 430.9,102.5 433.5,102.5 436.0,102.5 438.6,102.5 441.1,102.5 443.7,102.5 446.2,102.5 448.8,102.5 451.3,102.5 453.8,102.5 456.4,102.5 458.9,102.5 461.5,102.5 464.0,102.5 466.6,102.5 469.1,102.5 471.6,102.5 474.2,102.5 476.7,102.5 479.3,102.5 481.8,102.5 484.4,102.5 486.9,102.5 489.5,102.5 492.0,102.5 494.5,102.5 497.1,102.5 499.6,102.5 502.2,102.5 504.7,102.5 504.9,102.5 505.2,102.5 505.4,102.5 505.6,102.5 505.8,102.5 506.0,102.5 506.2,102.5 506.4,102.5 506.6,102.5 506.9,102.5 507.1,102.5 507.3,102.5 507.5,102.5 507.7,102.5 507.9,102.5 508.1,102.5 508.3,102.5 508.6,102.5 508.8,102.5 509.0,102.5 509.2,102.5 509.4,102.5 509.6,102.5 509.8,102.5 510.1,102.5 510.3,102.5 510.5,102.5 510.7,102.5 510.9,102.5 511.1,102.5 511.3,102.5 511.5,102.5 511.8,102.5 512.0,102.5 512.2,102.5 512.4,102.5 512.6,102.5 512.8,102.5 513.0,102.5 513.3,102.5 513.5,102.5 513.7,102.5 513.9,102.5 514.1,102.5 514.3,102.5 514.5,102.5 514.7,102.5 515.0,102.5 515.2,102.5 515.4,102.5 515.6,102.5 515.8,102.5 516.0,102.4 516.2,102.4 516.4,102.3 516.7,102.3 516.9,102.2 517.1,102.1 517.3,102.0 517.5,101.9 517.7,101.8 517.9,101.7 518.2,101.6 518.4,101.5 518.6,101.3 518.8,101.2 519.0,101.1 519.2,100.9 519.4,100.8 519.6,100.6 519.9,100.4 520.1,100.3 520.3,100.1 520.5,100.0 520.7,99.8 520.9,99.6 521.1,99.3 521.4,99.0 521.6,98.7 521.8,98.3 522.0,97.9 522.2,97.4 522.4,96.9 522.6,96.5 522.8,96.0 523.1,95.4 523.3,94.9 523.5,94.4 523.7,94.0 523.9,93.5 524.1,93.0 524.3,92.6 524.5,92.2 524.8,91.9 525.0,91.5 525.2,91.3 525.4,91.1 525.6,90.9 525.8,90.8 526.0,90.8 526.3,91.0 526.5,91.3 526.7,91.8 526.9,92.4 527.1,93.2 527.3,94.2 527.5,95.3 527.7,96.4 528.0,97.7 528.2,99.1 528.4,100.6 528.6,102.2 528.8,103.8 529.0,105.4 529.2,107.2 529.5,108.9 529.7,110.7 529.9,112.5 530.1,114.2 530.3,116.0 530.5,117.7 530.7,119.5 530.9,121.1 531.2,122.8 531.4,124.3 531.6,125.8 531.8,127.2 532.0,128.5 532.2,129.7 532.4,130.8 532.6,131.7 532.9,132.6 533.1,133.2 533.3,133.7 533.5,134.1 533.7,134.2 533.9,134.2 534.1,134.1 534.4,134.0 534.6,133.8 534.8,133.6 535.0,133.3 535.2,132.9 535.4,132.5 535.6,132.1 535.8,131.6 536.1,131.1 536.3,130.5 536.5,130.0 536.7,129.4 536.9,128.8 537.1,128.1 537.3,127.5 537.6,126.8 537.8,126.2 538.0,125.5 538.2,124.8 538.4,124.2 538.6,123.5 538.8,122.9 539.0,122.2 539.3,121.6 539.5,121.0 539.7,120.4 539.9,119.9 540.1,119.3 540.3,118.8 540.5,118.3 540.7,117.8 541.0,117.3 541.2,116.8 541.4,116.3 541.6,115.8 541.8,115.3 542.0,114.8 542.2,114.3 542.5,113.8 542.7,113.3 542.9,112.8 543.1,112.3 543.3,111.8 543.5,111.3 543.7,110.8 543.9,110.3 544.2,109.8 544.4,109.3 544.6,108.8 544.8,108.3 545.0,107.8 545.2,107.3 545.4,106.8 545.7,106.3 545.9,105.8 546.1,105.3 546.3,104.8 546.5,104.3 546.7,103.8 546.9,103.3 547.1,102.8 547.4,102.2 547.6,101.7 547.8,101.2 548.0,100.7 548.2,100.2 548.4,99.8 548.6,99.3 548.8,98.8 549.1,98.3 549.3,97.8 549.5,97.3 549.7,96.8 549.9,96.3 550.1,95.8 550.3,95.3 550.6,94.8 550.8,94.3 551.0,93.8 551.2,93.3 551.4,92.8 551.6,92.3 551.8,91.8 552.0,91.3 552.3,90.8 552.5,90.3 552.7,89.8 552.9,89.3 553.1,88.8 553.3,88.2 553.5,87.7 553.8,87.2 554.0,86.7 554.2,86.2 554.4,85.7 554.6,85.1 554.8,84.5 555.0,83.9 555.2,83.2 555.5,82.6 555.7,81.9 555.9,81.2 556.1,80.5 556.3,79.7 556.5,79.0 556.7,78.3 556.9,77.6 557.2,77.0 557.4,76.3 557.6,75.7 557.8,75.2 558.0,74.6 558.2,74.1 558.4,73.7 558.7,73.3 558.9,73.0 559.1,72.7 559.3,72.6 559.5,72.5 559.7,72.4 559.9,72.6 560.1,72.9 560.4,73.3 560.6,73.9 560.8,74.6 561.0,75.5 561.2,76.4 561.4,77.5 561.6,78.7 561.9,79.9 562.1,81.2 562.3,82.6 562.5,84.1 562.7,85.6 562.9,87.2 563.1,88.8 563.3,90.4 563.6,92.0 563.8,93.6 564.0,95.3 564.2,96.9 564.4,98.5 564.6,100.1 564.8,101.6 565.0,103.1 565.3,104.5 565.5,105.9 565.7,107.2 565.9,108.4 566.1,109.6 566.3,110.6 566.5,111.5 566.8,112.3 567.0,113.0 567.2,113.5 567.4,113.9 567.6,114.1 567.8,114.2 568.0,114.1 568.2,114.0 568.5,113.9 568.7,113.6 568.9,113.3 569.1,113.0 569.3,112.6 569.5,112.2 569.7,111.8 570.0,111.3 570.2,110.8 570.4,110.3 570.6,109.9 570.8,109.4 571.0,108.9 571.2,108.4 571.4,107.9 571.7,107.5 571.9,107.1 572.1,106.7 572.3,106.4 572.5,106.1 572.7,105.9 572.9,105.7 573.1,105.5 573.4,105.3 573.6,105.1 573.8,104.9 574.0,104.8 574.2,104.6 574.4,104.4 574.6,104.2 574.9,104.1 575.1,103.9 575.3,103.8 575.5,103.6 575.7,103.5 575.9,103.3 576.1,103.2 576.3,103.1 576.6,103.0 576.8,102.9 577.0,102.8 577.2,102.7 577.4,102.7 577.6,102.6 577.8,102.6 578.1,102.5 578.3,102.5 578.5,102.5 578.7,102.5 578.9,102.5 579.1,102.5 579.3,102.5 579.5,102.5 579.8,102.5 580.0,102.5 580.2,102.5 580.4,102.5 580.6,102.5 580.8,102.5 581.0,102.5 581.2,102.5 581.5,102.5 581.7,102.5 581.9,102.5 582.1,102.5 582.3,102.5 582.5,102.5 582.7,102.5 583.0,102.5 583.2,102.5 583.4,102.5 583.6,102.5 583.8,102.5 584.0,102.5 584.2,102.5 584.4,102.5 584.7,102.5 584.9,102.5 585.1,102.5 585.3,102.5 585.5,102.5 585.7,102.5 585.9,102.5 586.2,102.5 586.4,102.5 586.6,102.5 586.8,102.5 587.0,102.5 587.2,102.5 587.4,102.5 587.6,102.5 587.9,102.5 588.1,102.5 588.3,102.5 588.5,102.5 588.7,102.5 588.9,102.5 589.1,102.5 589.3,102.5 589.6,102.5 589.8,102.5 592.3,102.5 594.9,102.5 597.4,102.5 600.0,102.5 602.5,102.5 605.0,102.5 607.6,102.5 610.1,102.5 612.7,102.5 615.2,102.5 617.8,102.5 620.3,102.5 622.9,102.5 625.4,102.5 627.9,102.5 630.5,102.5 633.0,102.5 635.6,102.5 638.1,102.5 640.7,102.5 643.2,102.5 645.7,102.5 648.3,102.5 650.8,102.5 653.4,102.5 655.9,102.5 658.5,102.5 661.0,102.5 663.6,102.5 666.1,102.5 668.6,102.5 671.2,102.5 673.7,102.5 676.3,102.5 678.8,102.5 681.4,102.5 683.9,102.5 686.5,102.5 689.0,102.5" fill="none" stroke="#303030" stroke-width="1.25" stroke-dasharray="1.1 2.6" stroke-linejoin="round" clip-path="url(#cB)"/><polyline points="405.5,102.5 408.0,102.5 410.6,102.5 413.1,102.5 415.7,102.5 418.2,102.5 420.8,102.5 423.3,102.5 425.9,102.5 428.4,102.5 430.9,102.5 433.5,102.5 436.0,102.5 438.6,102.5 441.1,102.5 443.7,102.5 446.2,102.5 448.8,102.5 451.3,102.5 453.8,102.5 456.4,102.5 458.9,102.5 461.5,102.5 464.0,102.5 466.6,102.5 469.1,102.5 471.6,102.5 474.2,102.5 476.7,102.5 479.3,102.5 481.8,102.5 484.4,102.5 486.9,102.5 489.5,102.5 492.0,102.5 494.5,102.5 497.1,102.5 499.6,102.5 502.2,102.5 504.7,102.5 504.9,102.5 505.2,102.5 505.4,102.5 505.6,102.5 505.8,102.5 506.0,102.5 506.2,102.5 506.4,102.5 506.6,102.5 506.9,102.5 507.1,102.5 507.3,102.5 507.5,102.5 507.7,102.5 507.9,102.5 508.1,102.5 508.3,102.5 508.6,102.5 508.8,102.5 509.0,102.5 509.2,102.5 509.4,102.5 509.6,102.5 509.8,102.5 510.1,102.5 510.3,102.5 510.5,102.5 510.7,102.5 510.9,102.5 511.1,102.5 511.3,102.5 511.5,102.5 511.8,102.5 512.0,102.5 512.2,102.5 512.4,102.5 512.6,102.5 512.8,102.5 513.0,102.5 513.3,102.5 513.5,102.5 513.7,102.5 513.9,102.5 514.1,102.5 514.3,102.5 514.5,102.5 514.7,102.5 515.0,102.5 515.2,102.5 515.4,102.5 515.6,102.5 515.8,102.5 516.0,102.5 516.2,102.5 516.4,102.5 516.7,102.5 516.9,102.5 517.1,102.5 517.3,102.5 517.5,102.5 517.7,102.5 517.9,102.5 518.2,102.5 518.4,102.5 518.6,102.5 518.8,102.5 519.0,102.5 519.2,102.5 519.4,102.5 519.6,102.5 519.9,102.5 520.1,102.5 520.3,102.5 520.5,102.5 520.7,102.5 520.9,102.5 521.1,102.5 521.4,102.5 521.6,102.5 521.8,102.5 522.0,102.5 522.2,102.5 522.4,102.5 522.6,102.5 522.8,102.5 523.1,102.5 523.3,102.5 523.5,102.6 523.7,102.6 523.9,102.6 524.1,102.7 524.3,102.7 524.5,102.7 524.8,102.8 525.0,102.8 525.2,102.9 525.4,102.9 525.6,102.9 525.8,103.0 526.0,103.0 526.3,103.0 526.5,103.1 526.7,103.1 526.9,103.1 527.1,103.1 527.3,103.2 527.5,103.2 527.7,103.2 528.0,103.2 528.2,103.1 528.4,103.1 528.6,103.0 528.8,102.9 529.0,102.7 529.2,102.6 529.5,102.4 529.7,102.2 529.9,102.0 530.1,101.8 530.3,101.6 530.5,101.4 530.7,101.1 530.9,100.9 531.2,100.6 531.4,100.3 531.6,100.0 531.8,99.8 532.0,99.5 532.2,99.2 532.4,98.9 532.6,98.6 532.9,98.3 533.1,98.0 533.3,97.7 533.5,97.4 533.7,97.1 533.9,96.9 534.1,96.6 534.4,96.4 534.6,96.1 534.8,95.9 535.0,95.7 535.2,95.4 535.4,95.2 535.6,94.9 535.8,94.7 536.1,94.4 536.3,94.2 536.5,93.9 536.7,93.6 536.9,93.3 537.1,93.0 537.3,92.7 537.6,92.4 537.8,92.2 538.0,91.9 538.2,91.6 538.4,91.3 538.6,91.0 538.8,90.7 539.0,90.5 539.3,90.2 539.5,89.9 539.7,89.7 539.9,89.4 540.1,89.2 540.3,88.9 540.5,88.7 540.7,88.5 541.0,88.3 541.2,88.1 541.4,88.0 541.6,87.8 541.8,87.7 542.0,87.5 542.2,87.4 542.5,87.3 542.7,87.2 542.9,87.2 543.1,87.2 543.3,87.1 543.5,87.2 543.7,87.4 543.9,87.7 544.2,88.2 544.4,88.8 544.6,89.4 544.8,90.2 545.0,91.1 545.2,92.1 545.4,93.1 545.7,94.2 545.9,95.4 546.1,96.6 546.3,97.8 546.5,99.0 546.7,100.3 546.9,101.6 547.1,102.8 547.4,104.1 547.6,105.3 547.8,106.5 548.0,107.6 548.2,108.7 548.4,109.7 548.6,110.7 548.8,111.6 549.1,112.3 549.3,113.0 549.5,113.6 549.7,114.0 549.9,114.3 550.1,114.5 550.3,114.5 550.6,114.5 550.8,114.5 551.0,114.4 551.2,114.3 551.4,114.2 551.6,114.0 551.8,113.9 552.0,113.8 552.3,113.6 552.5,113.4 552.7,113.2 552.9,113.0 553.1,112.9 553.3,112.7 553.5,112.5 553.8,112.3 554.0,112.1 554.2,112.0 554.4,111.8 554.6,111.7 554.8,111.5 555.0,111.3 555.2,111.2 555.5,111.0 555.7,110.8 555.9,110.6 556.1,110.5 556.3,110.3 556.5,110.1 556.7,109.9 556.9,109.7 557.2,109.5 557.4,109.4 557.6,109.2 557.8,109.0 558.0,108.8 558.2,108.6 558.4,108.4 558.7,108.2 558.9,108.0 559.1,107.9 559.3,107.7 559.5,107.5 559.7,107.3 559.9,107.2 560.1,107.0 560.4,106.8 560.6,106.7 560.8,106.5 561.0,106.4 561.2,106.2 561.4,106.1 561.6,105.9 561.9,105.8 562.1,105.7 562.3,105.5 562.5,105.4 562.7,105.2 562.9,105.1 563.1,105.0 563.3,104.8 563.6,104.7 563.8,104.5 564.0,104.4 564.2,104.2 564.4,104.1 564.6,104.0 564.8,103.8 565.0,103.7 565.3,103.6 565.5,103.5 565.7,103.3 565.9,103.2 566.1,103.1 566.3,103.0 566.5,102.9 566.8,102.9 567.0,102.8 567.2,102.7 567.4,102.7 567.6,102.6 567.8,102.6 568.0,102.5 568.2,102.5 568.5,102.5 568.7,102.5 568.9,102.5 569.1,102.5 569.3,102.5 569.5,102.5 569.7,102.5 570.0,102.5 570.2,102.5 570.4,102.5 570.6,102.5 570.8,102.5 571.0,102.5 571.2,102.5 571.4,102.5 571.7,102.5 571.9,102.5 572.1,102.5 572.3,102.5 572.5,102.5 572.7,102.5 572.9,102.5 573.1,102.5 573.4,102.5 573.6,102.5 573.8,102.5 574.0,102.5 574.2,102.5 574.4,102.5 574.6,102.5 574.9,102.5 575.1,102.5 575.3,102.5 575.5,102.5 575.7,102.5 575.9,102.5 576.1,102.5 576.3,102.5 576.6,102.5 576.8,102.5 577.0,102.5 577.2,102.5 577.4,102.5 577.6,102.5 577.8,102.5 578.1,102.5 578.3,102.5 578.5,102.5 578.7,102.5 578.9,102.5 579.1,102.5 579.3,102.5 579.5,102.5 579.8,102.5 580.0,102.5 580.2,102.5 580.4,102.5 580.6,102.5 580.8,102.5 581.0,102.5 581.2,102.5 581.5,102.5 581.7,102.5 581.9,102.5 582.1,102.5 582.3,102.5 582.5,102.5 582.7,102.5 583.0,102.5 583.2,102.5 583.4,102.5 583.6,102.5 583.8,102.5 584.0,102.5 584.2,102.5 584.4,102.5 584.7,102.5 584.9,102.5 585.1,102.5 585.3,102.5 585.5,102.5 585.7,102.5 585.9,102.5 586.2,102.5 586.4,102.5 586.6,102.5 586.8,102.5 587.0,102.5 587.2,102.5 587.4,102.5 587.6,102.5 587.9,102.5 588.1,102.5 588.3,102.5 588.5,102.5 588.7,102.5 588.9,102.5 589.1,102.5 589.3,102.5 589.6,102.5 589.8,102.5 592.3,102.5 594.9,102.5 597.4,102.5 600.0,102.5 602.5,102.5 605.0,102.5 607.6,102.5 610.1,102.5 612.7,102.5 615.2,102.5 617.8,102.5 620.3,102.5 622.9,102.5 625.4,102.5 627.9,102.5 630.5,102.5 633.0,102.5 635.6,102.5 638.1,102.5 640.7,102.5 643.2,102.5 645.7,102.5 648.3,102.5 650.8,102.5 653.4,102.5 655.9,102.5 658.5,102.5 661.0,102.5 663.6,102.5 666.1,102.5 668.6,102.5 671.2,102.5 673.7,102.5 676.3,102.5 678.8,102.5 681.4,102.5 683.9,102.5 686.5,102.5 689.0,102.5" fill="none" stroke="#00ff00" stroke-width="2" stroke-dasharray="1 3 5.2 3" stroke-linejoin="round" clip-path="url(#cB)"/><path d="M405.50 169.3v-2.5M405.50 35.7v2.5 M440.94 169.3v-2.5M440.94 35.7v2.5 M476.38 169.3v-2.5M476.38 35.7v2.5 M511.81 169.3v-2.5M511.81 35.7v2.5 M547.25 169.3v-2.5M547.25 35.7v2.5 M582.69 169.3v-2.5M582.69 35.7v2.5 M618.12 169.3v-2.5M618.12 35.7v2.5 M653.56 169.3v-2.5M653.56 35.7v2.5 M689.00 169.3v-2.5M689.00 35.7v2.5 M405.5 169.30h2.5M689.0 169.30h-2.5 M405.5 135.90h2.5M689.0 135.90h-2.5 M405.5 102.50h2.5M689.0 102.50h-2.5 M405.5 69.10h2.5M689.0 69.10h-2.5 M405.5 35.70h2.5M689.0 35.70h-2.5" stroke="#262626" stroke-width="0.8" fill="none"/><rect x="405.5" y="35.7" width="283.5" height="133.60000000000002" fill="none" stroke="#484848" stroke-width="1.2"/><text x="403.00" y="180.50" text-anchor="middle" class="tk">−4</text><text x="438.44" y="180.50" text-anchor="middle" class="tk">−3</text><text x="473.88" y="180.50" text-anchor="middle" class="tk">−2</text><text x="509.31" y="180.50" text-anchor="middle" class="tk">−1</text><text x="547.25" y="180.50" text-anchor="middle" class="tk">0</text><text x="582.69" y="180.50" text-anchor="middle" class="tk">1</text><text x="618.12" y="180.50" text-anchor="middle" class="tk">2</text><text x="653.56" y="180.50" text-anchor="middle" class="tk">3</text><text x="689.00" y="180.50" text-anchor="middle" class="tk">4</text><text x="402.70" y="172.90" text-anchor="end" class="tk">−0.2</text><text x="402.70" y="139.50" text-anchor="end" class="tk">−0.1</text><text x="402.70" y="106.10" text-anchor="end" class="tk">0</text><text x="402.70" y="72.70" text-anchor="end" class="tk">0.1</text><text x="402.70" y="39.30" text-anchor="end" class="tk">0.2</text><rect x="31.86" y="218.4" width="283.64" height="133.79999999999998" fill="#fff"/><path d="M67.31 218.4V352.2 M102.77 218.4V352.2 M138.22 218.4V352.2 M173.68 218.4V352.2 M209.13 218.4V352.2 M244.59 218.4V352.2 M280.05 218.4V352.2 M31.86 318.75H315.5 M31.86 285.30H315.5 M31.86 251.85H315.5" stroke="#b4b4b4" stroke-width="0.6" stroke-dasharray="0.9 2.8" fill="none"/><polyline points="31.9,285.3 34.4,285.3 37.0,285.3 39.5,285.3 42.0,285.3 44.6,285.3 47.1,285.3 49.7,285.3 52.2,285.3 54.8,285.3 57.3,285.3 59.9,285.3 62.4,285.3 65.0,285.3 67.5,285.3 70.0,285.3 72.6,285.3 75.1,285.3 77.7,285.3 80.2,285.3 82.8,285.3 85.3,285.3 87.9,285.3 90.4,285.3 93.0,285.3 95.5,285.3 98.0,285.3 100.6,285.3 103.1,285.3 105.7,285.3 108.2,285.3 110.8,285.3 113.3,285.3 115.9,285.3 118.4,285.3 121.0,285.3 123.5,285.3 126.0,285.3 128.6,285.3 131.1,285.3 131.3,285.3 131.6,285.3 131.8,285.3 132.0,285.3 132.2,285.3 132.4,285.3 132.6,285.3 132.8,285.3 133.1,285.3 133.3,285.3 133.5,285.3 133.7,285.3 133.9,285.3 134.1,285.3 134.3,285.3 134.5,285.3 134.8,285.3 135.0,285.3 135.2,285.3 135.4,285.3 135.6,285.3 135.8,285.3 136.0,285.3 136.3,285.3 136.5,285.3 136.7,285.3 136.9,285.3 137.1,285.3 137.3,285.3 137.5,285.3 137.7,285.3 138.0,285.3 138.2,285.3 138.4,285.3 138.6,285.3 138.8,285.3 139.0,285.3 139.2,285.3 139.5,285.3 139.7,285.3 139.9,285.3 140.1,285.3 140.3,285.3 140.5,285.3 140.7,285.3 140.9,285.3 141.2,285.3 141.4,285.3 141.6,285.3 141.8,285.3 142.0,285.3 142.2,285.3 142.4,285.3 142.7,285.4 142.9,285.4 143.1,285.4 143.3,285.5 143.5,285.5 143.7,285.6 143.9,285.6 144.1,285.7 144.4,285.8 144.6,285.8 144.8,285.9 145.0,286.0 145.2,286.0 145.4,286.1 145.6,286.2 145.8,286.2 146.1,286.3 146.3,286.4 146.5,286.5 146.7,286.5 146.9,286.6 147.1,286.6 147.3,286.7 147.6,286.8 147.8,286.9 148.0,287.0 148.2,287.0 148.4,287.1 148.6,287.2 148.8,287.3 149.0,287.4 149.3,287.5 149.5,287.6 149.7,287.7 149.9,287.8 150.1,287.8 150.3,287.9 150.5,288.0 150.8,288.0 151.0,288.1 151.2,288.1 151.4,288.1 151.6,288.1 151.8,288.1 152.0,288.1 152.2,288.1 152.5,288.0 152.7,288.0 152.9,287.9 153.1,287.8 153.3,287.7 153.5,287.6 153.7,287.5 154.0,287.3 154.2,287.2 154.4,287.0 154.6,286.9 154.8,286.7 155.0,286.5 155.2,286.4 155.4,286.2 155.7,286.0 155.9,285.9 156.1,285.7 156.3,285.5 156.5,285.3 156.7,285.2 156.9,285.0 157.2,284.9 157.4,284.7 157.6,284.6 157.8,284.4 158.0,284.3 158.2,284.1 158.4,284.0 158.6,283.8 158.9,283.6 159.1,283.4 159.3,283.2 159.5,283.1 159.7,282.9 159.9,282.7 160.1,282.5 160.4,282.3 160.6,282.1 160.8,282.0 161.0,281.8 161.2,281.7 161.4,281.5 161.6,281.4 161.8,281.3 162.1,281.2 162.3,281.1 162.5,281.0 162.7,281.0 162.9,281.0 163.1,281.0 163.3,281.0 163.6,281.0 163.8,281.0 164.0,281.0 164.2,281.1 164.4,281.1 164.6,281.2 164.8,281.2 165.0,281.3 165.3,281.4 165.5,281.4 165.7,281.5 165.9,281.6 166.1,281.7 166.3,281.8 166.5,281.9 166.7,282.0 167.0,282.1 167.2,282.2 167.4,282.3 167.6,282.4 167.8,282.5 168.0,282.6 168.2,282.7 168.5,282.8 168.7,282.9 168.9,283.0 169.1,283.2 169.3,283.3 169.5,283.4 169.7,283.5 169.9,283.5 170.2,283.6 170.4,283.7 170.6,283.8 170.8,283.9 171.0,284.0 171.2,284.1 171.4,284.2 171.7,284.3 171.9,284.4 172.1,284.5 172.3,284.6 172.5,284.7 172.7,284.8 172.9,284.9 173.1,285.0 173.4,285.1 173.6,285.2 173.8,285.4 174.0,285.5 174.2,285.6 174.4,285.7 174.6,285.8 174.9,285.9 175.1,286.0 175.3,286.1 175.5,286.2 175.7,286.3 175.9,286.4 176.1,286.5 176.3,286.6 176.6,286.7 176.8,286.8 177.0,286.9 177.2,287.0 177.4,287.1 177.6,287.1 177.8,287.2 178.1,287.3 178.3,287.4 178.5,287.6 178.7,287.7 178.9,287.8 179.1,287.9 179.3,288.0 179.5,288.1 179.8,288.2 180.0,288.3 180.2,288.4 180.4,288.5 180.6,288.6 180.8,288.7 181.0,288.8 181.3,288.9 181.5,289.0 181.7,289.1 181.9,289.2 182.1,289.2 182.3,289.3 182.5,289.4 182.7,289.4 183.0,289.5 183.2,289.5 183.4,289.6 183.6,289.6 183.8,289.6 184.0,289.6 184.2,289.6 184.4,289.6 184.7,289.6 184.9,289.6 185.1,289.5 185.3,289.4 185.5,289.3 185.7,289.2 185.9,289.1 186.2,288.9 186.4,288.8 186.6,288.6 186.8,288.5 187.0,288.3 187.2,288.1 187.4,287.9 187.6,287.7 187.9,287.5 188.1,287.4 188.3,287.2 188.5,287.0 188.7,286.8 188.9,286.6 189.1,286.5 189.4,286.3 189.6,286.2 189.8,286.0 190.0,285.9 190.2,285.7 190.4,285.6 190.6,285.4 190.8,285.3 191.1,285.1 191.3,284.9 191.5,284.7 191.7,284.6 191.9,284.4 192.1,284.2 192.3,284.1 192.6,283.9 192.8,283.7 193.0,283.6 193.2,283.4 193.4,283.3 193.6,283.1 193.8,283.0 194.0,282.9 194.3,282.8 194.5,282.7 194.7,282.6 194.9,282.6 195.1,282.5 195.3,282.5 195.5,282.5 195.8,282.5 196.0,282.5 196.2,282.5 196.4,282.5 196.6,282.6 196.8,282.6 197.0,282.7 197.2,282.8 197.5,282.8 197.7,282.9 197.9,283.0 198.1,283.1 198.3,283.2 198.5,283.3 198.7,283.4 199.0,283.5 199.2,283.6 199.4,283.6 199.6,283.7 199.8,283.8 200.0,283.9 200.2,284.0 200.4,284.0 200.7,284.1 200.9,284.1 201.1,284.2 201.3,284.3 201.5,284.4 201.7,284.4 201.9,284.5 202.2,284.6 202.4,284.6 202.6,284.7 202.8,284.8 203.0,284.8 203.2,284.9 203.4,285.0 203.6,285.0 203.9,285.1 204.1,285.1 204.3,285.2 204.5,285.2 204.7,285.2 204.9,285.3 205.1,285.3 205.3,285.3 205.6,285.3 205.8,285.3 206.0,285.3 206.2,285.3 206.4,285.3 206.6,285.3 206.8,285.3 207.1,285.3 207.3,285.3 207.5,285.3 207.7,285.3 207.9,285.3 208.1,285.3 208.3,285.3 208.5,285.3 208.8,285.3 209.0,285.3 209.2,285.3 209.4,285.3 209.6,285.3 209.8,285.3 210.0,285.3 210.3,285.3 210.5,285.3 210.7,285.3 210.9,285.3 211.1,285.3 211.3,285.3 211.5,285.3 211.7,285.3 212.0,285.3 212.2,285.3 212.4,285.3 212.6,285.3 212.8,285.3 213.0,285.3 213.2,285.3 213.5,285.3 213.7,285.3 213.9,285.3 214.1,285.3 214.3,285.3 214.5,285.3 214.7,285.3 214.9,285.3 215.2,285.3 215.4,285.3 215.6,285.3 215.8,285.3 216.0,285.3 216.2,285.3 218.8,285.3 221.3,285.3 223.9,285.3 226.4,285.3 229.0,285.3 231.5,285.3 234.0,285.3 236.6,285.3 239.1,285.3 241.7,285.3 244.2,285.3 246.8,285.3 249.3,285.3 251.9,285.3 254.4,285.3 257.0,285.3 259.5,285.3 262.0,285.3 264.6,285.3 267.1,285.3 269.7,285.3 272.2,285.3 274.8,285.3 277.3,285.3 279.9,285.3 282.4,285.3 285.0,285.3 287.5,285.3 290.0,285.3 292.6,285.3 295.1,285.3 297.7,285.3 300.2,285.3 302.8,285.3 305.3,285.3 307.9,285.3 310.4,285.3 313.0,285.3 315.5,285.3" fill="none" stroke="#ff0000" stroke-width="2" stroke-linejoin="round" clip-path="url(#cC)"/><polyline points="31.9,285.3 34.4,285.3 37.0,285.3 39.5,285.3 42.0,285.3 44.6,285.3 47.1,285.3 49.7,285.3 52.2,285.3 54.8,285.3 57.3,285.3 59.9,285.3 62.4,285.3 65.0,285.3 67.5,285.3 70.0,285.3 72.6,285.3 75.1,285.3 77.7,285.3 80.2,285.3 82.8,285.3 85.3,285.3 87.9,285.3 90.4,285.3 93.0,285.3 95.5,285.3 98.0,285.3 100.6,285.3 103.1,285.3 105.7,285.3 108.2,285.3 110.8,285.3 113.3,285.3 115.9,285.3 118.4,285.3 121.0,285.3 123.5,285.3 126.0,285.3 128.6,285.3 131.1,285.3 131.3,285.3 131.6,285.3 131.8,285.3 132.0,285.3 132.2,285.3 132.4,285.3 132.6,285.3 132.8,285.3 133.1,285.3 133.3,285.3 133.5,285.3 133.7,285.3 133.9,285.3 134.1,285.3 134.3,285.3 134.5,285.3 134.8,285.3 135.0,285.3 135.2,285.3 135.4,285.3 135.6,285.3 135.8,285.3 136.0,285.3 136.3,285.3 136.5,285.3 136.7,285.3 136.9,285.3 137.1,285.3 137.3,285.3 137.5,285.3 137.7,285.3 138.0,285.3 138.2,285.3 138.4,285.3 138.6,285.3 138.8,285.3 139.0,285.3 139.2,285.3 139.5,285.3 139.7,285.3 139.9,285.3 140.1,285.3 140.3,285.3 140.5,285.3 140.7,285.3 140.9,285.3 141.2,285.3 141.4,285.3 141.6,285.3 141.8,285.3 142.0,285.3 142.2,285.3 142.4,285.3 142.7,285.3 142.9,285.3 143.1,285.3 143.3,285.3 143.5,285.3 143.7,285.3 143.9,285.3 144.1,285.3 144.4,285.3 144.6,285.3 144.8,285.3 145.0,285.3 145.2,285.3 145.4,285.3 145.6,285.3 145.8,285.3 146.1,285.3 146.3,285.3 146.5,285.3 146.7,285.3 146.9,285.3 147.1,285.3 147.3,285.3 147.6,285.3 147.8,285.3 148.0,285.3 148.2,285.3 148.4,285.3 148.6,285.3 148.8,285.3 149.0,285.3 149.3,285.3 149.5,285.6 149.7,286.1 149.9,286.9 150.1,288.0 150.3,289.2 150.5,290.5 150.8,292.0 151.0,293.5 151.2,295.1 151.4,296.6 151.6,298.1 151.8,299.5 152.0,301.3 152.2,303.4 152.5,305.6 152.7,307.8 152.9,310.0 153.1,311.9 153.3,313.6 153.5,314.7 153.7,315.3 154.0,315.3 154.2,314.6 154.4,313.4 154.6,311.7 154.8,309.7 155.0,307.3 155.2,304.6 155.4,301.7 155.7,298.8 155.9,295.7 156.1,292.7 156.3,289.8 156.5,287.1 156.7,284.5 156.9,281.7 157.2,278.6 157.4,275.2 157.6,271.6 157.8,268.0 158.0,264.4 158.2,261.0 158.4,257.9 158.6,255.1 158.9,252.7 159.1,250.9 159.3,249.7 159.5,249.3 159.7,249.6 159.9,250.2 160.1,251.2 160.4,252.4 160.6,254.0 160.8,255.7 161.0,257.7 161.2,259.7 161.4,261.8 161.6,263.9 161.8,265.9 162.1,267.9 162.3,269.8 162.5,271.4 162.7,272.9 162.9,274.0 163.1,274.9 163.3,275.6 163.6,276.4 163.8,277.1 164.0,277.8 164.2,278.4 164.4,279.0 164.6,279.6 164.8,280.1 165.0,280.6 165.3,281.0 165.5,281.5 165.7,281.8 165.9,282.2 166.1,282.5 166.3,282.7 166.5,283.0 166.7,283.2 167.0,283.5 167.2,283.7 167.4,283.9 167.6,284.1 167.8,284.3 168.0,284.5 168.2,284.7 168.5,284.8 168.7,285.0 168.9,285.1 169.1,285.2 169.3,285.2 169.5,285.3 169.7,285.3 169.9,285.3 170.2,285.3 170.4,285.3 170.6,285.3 170.8,285.3 171.0,285.3 171.2,285.3 171.4,285.3 171.7,285.3 171.9,285.3 172.1,285.3 172.3,285.3 172.5,285.3 172.7,285.3 172.9,285.3 173.1,285.3 173.4,285.3 173.6,285.3 173.8,285.3 174.0,285.3 174.2,285.4 174.4,285.4 174.6,285.5 174.9,285.6 175.1,285.7 175.3,285.9 175.5,286.0 175.7,286.2 175.9,286.4 176.1,286.6 176.3,286.8 176.6,287.0 176.8,287.2 177.0,287.4 177.2,287.7 177.4,287.9 177.6,288.2 177.8,288.5 178.1,288.7 178.3,289.0 178.5,289.3 178.7,289.5 178.9,289.9 179.1,290.2 179.3,290.6 179.5,291.1 179.8,291.5 180.0,292.0 180.2,292.6 180.4,293.1 180.6,293.7 180.8,294.4 181.0,295.0 181.3,295.6 181.5,296.3 181.7,297.0 181.9,297.7 182.1,298.4 182.3,299.0 182.5,299.7 182.7,300.4 183.0,301.1 183.2,301.8 183.4,302.4 183.6,303.2 183.8,304.0 184.0,304.9 184.2,305.8 184.4,306.8 184.7,307.8 184.9,308.8 185.1,309.8 185.3,310.8 185.5,311.8 185.7,312.8 185.9,313.7 186.2,314.6 186.4,315.4 186.6,316.1 186.8,316.8 187.0,317.3 187.2,317.8 187.4,318.1 187.6,318.3 187.9,318.4 188.1,317.9 188.3,316.6 188.5,314.6 188.7,312.0 188.9,308.9 189.1,305.4 189.4,301.7 189.6,297.9 189.8,294.2 190.0,290.6 190.2,287.2 190.4,284.2 190.6,281.0 190.8,277.4 191.1,273.6 191.3,269.7 191.5,265.9 191.7,262.3 191.9,259.0 192.1,256.1 192.3,253.9 192.6,252.3 192.8,251.6 193.0,251.7 193.2,252.3 193.4,253.5 193.6,255.0 193.8,256.8 194.0,258.8 194.3,261.0 194.5,263.2 194.7,265.5 194.9,267.7 195.1,269.7 195.3,271.5 195.5,272.9 195.8,274.0 196.0,275.1 196.2,276.1 196.4,277.1 196.6,278.0 196.8,278.9 197.0,279.8 197.2,280.5 197.5,281.2 197.7,281.7 197.9,282.2 198.1,282.6 198.3,282.8 198.5,283.1 198.7,283.3 199.0,283.5 199.2,283.8 199.4,284.0 199.6,284.2 199.8,284.3 200.0,284.5 200.2,284.7 200.4,284.8 200.7,284.9 200.9,285.0 201.1,285.1 201.3,285.2 201.5,285.2 201.7,285.3 201.9,285.3 202.2,285.3 202.4,285.3 202.6,285.3 202.8,285.3 203.0,285.3 203.2,285.3 203.4,285.3 203.6,285.3 203.9,285.3 204.1,285.3 204.3,285.3 204.5,285.3 204.7,285.3 204.9,285.3 205.1,285.3 205.3,285.3 205.6,285.3 205.8,285.3 206.0,285.3 206.2,285.3 206.4,285.3 206.6,285.3 206.8,285.3 207.1,285.3 207.3,285.3 207.5,285.3 207.7,285.3 207.9,285.3 208.1,285.3 208.3,285.3 208.5,285.3 208.8,285.3 209.0,285.3 209.2,285.3 209.4,285.3 209.6,285.3 209.8,285.3 210.0,285.3 210.3,285.3 210.5,285.3 210.7,285.3 210.9,285.3 211.1,285.3 211.3,285.3 211.5,285.3 211.7,285.3 212.0,285.3 212.2,285.3 212.4,285.3 212.6,285.3 212.8,285.3 213.0,285.3 213.2,285.3 213.5,285.3 213.7,285.3 213.9,285.3 214.1,285.3 214.3,285.3 214.5,285.3 214.7,285.3 214.9,285.3 215.2,285.3 215.4,285.3 215.6,285.3 215.8,285.3 216.0,285.3 216.2,285.3 218.8,285.3 221.3,285.3 223.9,285.3 226.4,285.3 229.0,285.3 231.5,285.3 234.0,285.3 236.6,285.3 239.1,285.3 241.7,285.3 244.2,285.3 246.8,285.3 249.3,285.3 251.9,285.3 254.4,285.3 257.0,285.3 259.5,285.3 262.0,285.3 264.6,285.3 267.1,285.3 269.7,285.3 272.2,285.3 274.8,285.3 277.3,285.3 279.9,285.3 282.4,285.3 285.0,285.3 287.5,285.3 290.0,285.3 292.6,285.3 295.1,285.3 297.7,285.3 300.2,285.3 302.8,285.3 305.3,285.3 307.9,285.3 310.4,285.3 313.0,285.3 315.5,285.3" fill="none" stroke="#0000ff" stroke-width="2.3" stroke-dasharray="5.4 4.5" stroke-linejoin="round" clip-path="url(#cC)"/><polyline points="31.9,285.3 34.4,285.3 37.0,285.3 39.5,285.3 42.0,285.3 44.6,285.3 47.1,285.3 49.7,285.3 52.2,285.3 54.8,285.3 57.3,285.3 59.9,285.3 62.4,285.3 65.0,285.3 67.5,285.3 70.0,285.3 72.6,285.3 75.1,285.3 77.7,285.3 80.2,285.3 82.8,285.3 85.3,285.3 87.9,285.3 90.4,285.3 93.0,285.3 95.5,285.3 98.0,285.3 100.6,285.3 103.1,285.3 105.7,285.3 108.2,285.3 110.8,285.3 113.3,285.3 115.9,285.3 118.4,285.3 121.0,285.3 123.5,285.3 126.0,285.3 128.6,285.3 131.1,285.3 131.3,285.3 131.6,285.3 131.8,285.3 132.0,285.3 132.2,285.3 132.4,285.3 132.6,285.3 132.8,285.3 133.1,285.3 133.3,285.3 133.5,285.3 133.7,285.3 133.9,285.3 134.1,285.3 134.3,285.3 134.5,285.3 134.8,285.3 135.0,285.3 135.2,285.3 135.4,285.3 135.6,285.3 135.8,285.3 136.0,285.3 136.3,285.3 136.5,285.3 136.7,285.3 136.9,285.3 137.1,285.3 137.3,285.3 137.5,285.3 137.7,285.3 138.0,285.3 138.2,285.3 138.4,285.3 138.6,285.3 138.8,285.3 139.0,285.3 139.2,285.3 139.5,285.3 139.7,285.3 139.9,285.3 140.1,285.3 140.3,285.3 140.5,285.3 140.7,285.3 140.9,285.3 141.2,285.3 141.4,285.3 141.6,285.3 141.8,285.3 142.0,285.3 142.2,285.3 142.4,285.3 142.7,285.3 142.9,285.3 143.1,285.3 143.3,285.3 143.5,285.3 143.7,285.3 143.9,285.3 144.1,285.3 144.4,285.3 144.6,285.3 144.8,285.3 145.0,285.3 145.2,285.3 145.4,285.3 145.6,285.3 145.8,285.3 146.1,285.3 146.3,285.3 146.5,285.3 146.7,285.3 146.9,285.3 147.1,285.3 147.3,285.3 147.6,285.3 147.8,285.3 148.0,285.3 148.2,285.3 148.4,285.3 148.6,285.4 148.8,285.6 149.0,285.8 149.3,286.0 149.5,286.3 149.7,286.6 149.9,286.9 150.1,287.2 150.3,287.6 150.5,288.0 150.8,288.4 151.0,288.9 151.2,289.3 151.4,289.7 151.6,290.1 151.8,290.6 152.0,291.2 152.2,291.9 152.5,292.6 152.7,293.5 152.9,294.4 153.1,295.4 153.3,296.3 153.5,297.3 153.7,298.2 154.0,299.1 154.2,299.9 154.4,300.6 154.6,301.2 154.8,301.6 155.0,301.9 155.2,302.0 155.4,301.9 155.7,301.6 155.9,301.1 156.1,300.4 156.3,299.6 156.5,298.6 156.7,297.6 156.9,296.4 157.2,295.2 157.4,293.9 157.6,292.5 157.8,291.2 158.0,289.9 158.2,288.5 158.4,287.3 158.6,286.1 158.9,284.9 159.1,283.7 159.3,282.3 159.5,280.7 159.7,279.2 159.9,277.5 160.1,275.9 160.4,274.3 160.6,272.7 160.8,271.3 161.0,270.0 161.2,268.9 161.4,268.0 161.6,267.3 161.8,267.0 162.1,266.9 162.3,267.0 162.5,267.1 162.7,267.2 162.9,267.4 163.1,267.6 163.3,267.9 163.6,268.2 163.8,268.6 164.0,269.0 164.2,269.4 164.4,269.8 164.6,270.3 164.8,270.8 165.0,271.3 165.3,271.8 165.5,272.3 165.7,272.8 165.9,273.3 166.1,273.9 166.3,274.4 166.5,274.9 166.7,275.4 167.0,275.9 167.2,276.4 167.4,276.8 167.6,277.3 167.8,277.7 168.0,278.1 168.2,278.4 168.5,278.7 168.7,279.1 168.9,279.4 169.1,279.7 169.3,279.9 169.5,280.2 169.7,280.5 169.9,280.8 170.2,281.1 170.4,281.3 170.6,281.6 170.8,281.8 171.0,282.1 171.2,282.4 171.4,282.6 171.7,282.9 171.9,283.1 172.1,283.4 172.3,283.6 172.5,283.9 172.7,284.1 172.9,284.4 173.1,284.6 173.4,284.9 173.6,285.2 173.8,285.4 174.0,285.7 174.2,286.0 174.4,286.2 174.6,286.5 174.9,286.7 175.1,287.0 175.3,287.2 175.5,287.5 175.7,287.7 175.9,288.0 176.1,288.2 176.3,288.5 176.6,288.8 176.8,289.0 177.0,289.3 177.2,289.5 177.4,289.8 177.6,290.1 177.8,290.4 178.1,290.7 178.3,290.9 178.5,291.2 178.7,291.5 178.9,291.9 179.1,292.2 179.3,292.5 179.5,292.9 179.8,293.3 180.0,293.8 180.2,294.2 180.4,294.7 180.6,295.2 180.8,295.7 181.0,296.2 181.3,296.7 181.5,297.3 181.7,297.8 181.9,298.3 182.1,298.8 182.3,299.3 182.5,299.8 182.7,300.3 183.0,300.8 183.2,301.2 183.4,301.6 183.6,302.0 183.8,302.4 184.0,302.7 184.2,303.0 184.4,303.2 184.7,303.4 184.9,303.5 185.1,303.6 185.3,303.7 185.5,303.6 185.7,303.3 185.9,302.6 186.2,301.7 186.4,300.6 186.6,299.3 186.8,297.9 187.0,296.3 187.2,294.7 187.4,293.1 187.6,291.4 187.9,289.9 188.1,288.3 188.3,286.9 188.5,285.7 188.7,284.5 188.9,283.3 189.1,282.1 189.4,280.7 189.6,279.4 189.8,278.1 190.0,276.7 190.2,275.4 190.4,274.2 190.6,273.0 190.8,272.0 191.1,271.0 191.3,270.2 191.5,269.5 191.7,269.0 191.9,268.7 192.1,268.6 192.3,268.7 192.6,269.0 192.8,269.4 193.0,270.0 193.2,270.7 193.4,271.5 193.6,272.4 193.8,273.3 194.0,274.3 194.3,275.2 194.5,276.2 194.7,277.1 194.9,278.0 195.1,278.7 195.3,279.4 195.5,280.0 195.8,280.5 196.0,280.9 196.2,281.3 196.4,281.7 196.6,282.2 196.8,282.6 197.0,283.0 197.2,283.4 197.5,283.7 197.7,284.0 197.9,284.3 198.1,284.6 198.3,284.8 198.5,285.0 198.7,285.2 199.0,285.3 199.2,285.3 199.4,285.3 199.6,285.3 199.8,285.3 200.0,285.3 200.2,285.3 200.4,285.3 200.7,285.3 200.9,285.3 201.1,285.3 201.3,285.3 201.5,285.3 201.7,285.3 201.9,285.3 202.2,285.3 202.4,285.3 202.6,285.3 202.8,285.3 203.0,285.3 203.2,285.3 203.4,285.3 203.6,285.3 203.9,285.3 204.1,285.3 204.3,285.3 204.5,285.3 204.7,285.3 204.9,285.3 205.1,285.3 205.3,285.3 205.6,285.3 205.8,285.3 206.0,285.3 206.2,285.3 206.4,285.3 206.6,285.3 206.8,285.3 207.1,285.3 207.3,285.3 207.5,285.3 207.7,285.3 207.9,285.3 208.1,285.3 208.3,285.3 208.5,285.3 208.8,285.3 209.0,285.3 209.2,285.3 209.4,285.3 209.6,285.3 209.8,285.3 210.0,285.3 210.3,285.3 210.5,285.3 210.7,285.3 210.9,285.3 211.1,285.3 211.3,285.3 211.5,285.3 211.7,285.3 212.0,285.3 212.2,285.3 212.4,285.3 212.6,285.3 212.8,285.3 213.0,285.3 213.2,285.3 213.5,285.3 213.7,285.3 213.9,285.3 214.1,285.3 214.3,285.3 214.5,285.3 214.7,285.3 214.9,285.3 215.2,285.3 215.4,285.3 215.6,285.3 215.8,285.3 216.0,285.3 216.2,285.3 218.8,285.3 221.3,285.3 223.9,285.3 226.4,285.3 229.0,285.3 231.5,285.3 234.0,285.3 236.6,285.3 239.1,285.3 241.7,285.3 244.2,285.3 246.8,285.3 249.3,285.3 251.9,285.3 254.4,285.3 257.0,285.3 259.5,285.3 262.0,285.3 264.6,285.3 267.1,285.3 269.7,285.3 272.2,285.3 274.8,285.3 277.3,285.3 279.9,285.3 282.4,285.3 285.0,285.3 287.5,285.3 290.0,285.3 292.6,285.3 295.1,285.3 297.7,285.3 300.2,285.3 302.8,285.3 305.3,285.3 307.9,285.3 310.4,285.3 313.0,285.3 315.5,285.3" fill="none" stroke="#303030" stroke-width="1.25" stroke-dasharray="1.1 2.6" stroke-linejoin="round" clip-path="url(#cC)"/><polyline points="31.9,285.3 34.4,285.3 37.0,285.3 39.5,285.3 42.0,285.3 44.6,285.3 47.1,285.3 49.7,285.3 52.2,285.3 54.8,285.3 57.3,285.3 59.9,285.3 62.4,285.3 65.0,285.3 67.5,285.3 70.0,285.3 72.6,285.3 75.1,285.3 77.7,285.3 80.2,285.3 82.8,285.3 85.3,285.3 87.9,285.3 90.4,285.3 93.0,285.3 95.5,285.3 98.0,285.3 100.6,285.3 103.1,285.3 105.7,285.3 108.2,285.3 110.8,285.3 113.3,285.3 115.9,285.3 118.4,285.3 121.0,285.3 123.5,285.3 126.0,285.3 128.6,285.3 131.1,285.3 131.3,285.3 131.6,285.3 131.8,285.3 132.0,285.3 132.2,285.3 132.4,285.3 132.6,285.3 132.8,285.3 133.1,285.3 133.3,285.3 133.5,285.3 133.7,285.3 133.9,285.3 134.1,285.3 134.3,285.3 134.5,285.3 134.8,285.3 135.0,285.3 135.2,285.3 135.4,285.3 135.6,285.3 135.8,285.3 136.0,285.3 136.3,285.3 136.5,285.3 136.7,285.3 136.9,285.3 137.1,285.3 137.3,285.3 137.5,285.3 137.7,285.3 138.0,285.3 138.2,285.3 138.4,285.3 138.6,285.3 138.8,285.3 139.0,285.3 139.2,285.3 139.5,285.3 139.7,285.3 139.9,285.3 140.1,285.3 140.3,285.3 140.5,285.3 140.7,285.3 140.9,285.3 141.2,285.3 141.4,285.3 141.6,285.3 141.8,285.3 142.0,285.3 142.2,285.3 142.4,285.3 142.7,285.3 142.9,285.3 143.1,285.3 143.3,285.3 143.5,285.3 143.7,285.3 143.9,285.3 144.1,285.3 144.4,285.3 144.6,285.3 144.8,285.3 145.0,285.3 145.2,285.3 145.4,285.3 145.6,285.3 145.8,285.3 146.1,285.3 146.3,285.3 146.5,285.3 146.7,285.3 146.9,285.3 147.1,285.3 147.3,285.3 147.6,285.3 147.8,285.3 148.0,285.3 148.2,285.3 148.4,285.3 148.6,285.3 148.8,285.3 149.0,285.3 149.3,285.3 149.5,285.3 149.7,285.3 149.9,285.3 150.1,285.3 150.3,285.3 150.5,285.3 150.8,285.3 151.0,285.3 151.2,285.3 151.4,285.3 151.6,285.3 151.8,285.3 152.0,285.3 152.2,285.3 152.5,285.3 152.7,285.3 152.9,285.3 153.1,285.3 153.3,285.3 153.5,285.3 153.7,285.3 154.0,285.3 154.2,285.3 154.4,285.3 154.6,285.3 154.8,285.3 155.0,285.3 155.2,285.3 155.4,285.3 155.7,285.3 155.9,285.3 156.1,285.3 156.3,285.3 156.5,285.3 156.7,285.3 156.9,285.3 157.2,285.3 157.4,285.3 157.6,285.3 157.8,285.3 158.0,285.3 158.2,285.3 158.4,285.3 158.6,285.3 158.9,285.3 159.1,285.3 159.3,285.3 159.5,285.3 159.7,285.3 159.9,285.3 160.1,285.3 160.4,285.3 160.6,285.3 160.8,285.3 161.0,285.3 161.2,285.3 161.4,285.3 161.6,285.3 161.8,285.3 162.1,285.3 162.3,285.3 162.5,285.3 162.7,285.3 162.9,285.3 163.1,285.3 163.3,285.3 163.6,285.3 163.8,285.3 164.0,285.3 164.2,285.3 164.4,285.3 164.6,285.3 164.8,285.3 165.0,285.3 165.3,285.3 165.5,285.3 165.7,285.3 165.9,285.3 166.1,285.3 166.3,285.3 166.5,285.1 166.7,284.7 167.0,284.1 167.2,283.4 167.4,282.6 167.6,281.8 167.8,280.8 168.0,279.9 168.2,278.9 168.5,278.0 168.7,277.1 168.9,276.2 169.1,275.2 169.3,274.0 169.5,272.8 169.7,271.6 169.9,270.5 170.2,269.6 170.4,268.9 170.6,268.6 170.8,268.6 171.0,269.0 171.2,269.6 171.4,270.4 171.7,271.4 171.9,272.6 172.1,273.8 172.3,275.0 172.5,276.3 172.7,277.6 172.9,279.1 173.1,280.8 173.4,282.6 173.6,284.4 173.8,286.2 174.0,288.0 174.2,289.8 174.4,291.5 174.6,293.0 174.9,294.3 175.1,295.6 175.3,296.8 175.5,298.0 175.7,299.2 175.9,300.2 176.1,301.0 176.3,301.6 176.6,302.0 176.8,302.0 177.0,301.7 177.2,301.0 177.4,300.1 177.6,299.0 177.8,297.8 178.1,296.6 178.3,295.4 178.5,294.4 178.7,293.5 178.9,292.6 179.1,291.7 179.3,290.7 179.5,289.8 179.8,288.8 180.0,288.0 180.2,287.2 180.4,286.5 180.6,285.9 180.8,285.5 181.0,285.3 181.3,285.3 181.5,285.3 181.7,285.3 181.9,285.3 182.1,285.3 182.3,285.3 182.5,285.3 182.7,285.3 183.0,285.3 183.2,285.3 183.4,285.3 183.6,285.3 183.8,285.3 184.0,285.3 184.2,285.3 184.4,285.3 184.7,285.3 184.9,285.3 185.1,285.3 185.3,285.3 185.5,285.3 185.7,285.3 185.9,285.3 186.2,285.3 186.4,285.3 186.6,285.3 186.8,285.3 187.0,285.3 187.2,285.3 187.4,285.3 187.6,285.3 187.9,285.3 188.1,285.3 188.3,285.3 188.5,285.3 188.7,285.3 188.9,285.3 189.1,285.3 189.4,285.3 189.6,285.3 189.8,285.3 190.0,285.3 190.2,285.3 190.4,285.3 190.6,285.3 190.8,285.3 191.1,285.3 191.3,285.3 191.5,285.3 191.7,285.3 191.9,285.3 192.1,285.3 192.3,285.3 192.6,285.3 192.8,285.3 193.0,285.3 193.2,285.3 193.4,285.3 193.6,285.3 193.8,285.3 194.0,285.3 194.3,285.3 194.5,285.3 194.7,285.3 194.9,285.3 195.1,285.3 195.3,285.3 195.5,285.3 195.8,285.3 196.0,285.3 196.2,285.3 196.4,285.3 196.6,285.3 196.8,285.3 197.0,285.3 197.2,285.3 197.5,285.3 197.7,285.3 197.9,285.3 198.1,285.3 198.3,285.3 198.5,285.3 198.7,285.3 199.0,285.3 199.2,285.3 199.4,285.3 199.6,285.3 199.8,285.3 200.0,285.3 200.2,285.3 200.4,285.3 200.7,285.3 200.9,285.3 201.1,285.3 201.3,285.3 201.5,285.3 201.7,285.3 201.9,285.3 202.2,285.3 202.4,285.3 202.6,285.3 202.8,285.3 203.0,285.3 203.2,285.3 203.4,285.3 203.6,285.3 203.9,285.3 204.1,285.3 204.3,285.3 204.5,285.3 204.7,285.3 204.9,285.3 205.1,285.3 205.3,285.3 205.6,285.3 205.8,285.3 206.0,285.3 206.2,285.3 206.4,285.3 206.6,285.3 206.8,285.3 207.1,285.3 207.3,285.3 207.5,285.3 207.7,285.3 207.9,285.3 208.1,285.3 208.3,285.3 208.5,285.3 208.8,285.3 209.0,285.3 209.2,285.3 209.4,285.3 209.6,285.3 209.8,285.3 210.0,285.3 210.3,285.3 210.5,285.3 210.7,285.3 210.9,285.3 211.1,285.3 211.3,285.3 211.5,285.3 211.7,285.3 212.0,285.3 212.2,285.3 212.4,285.3 212.6,285.3 212.8,285.3 213.0,285.3 213.2,285.3 213.5,285.3 213.7,285.3 213.9,285.3 214.1,285.3 214.3,285.3 214.5,285.3 214.7,285.3 214.9,285.3 215.2,285.3 215.4,285.3 215.6,285.3 215.8,285.3 216.0,285.3 216.2,285.3 218.8,285.3 221.3,285.3 223.9,285.3 226.4,285.3 229.0,285.3 231.5,285.3 234.0,285.3 236.6,285.3 239.1,285.3 241.7,285.3 244.2,285.3 246.8,285.3 249.3,285.3 251.9,285.3 254.4,285.3 257.0,285.3 259.5,285.3 262.0,285.3 264.6,285.3 267.1,285.3 269.7,285.3 272.2,285.3 274.8,285.3 277.3,285.3 279.9,285.3 282.4,285.3 285.0,285.3 287.5,285.3 290.0,285.3 292.6,285.3 295.1,285.3 297.7,285.3 300.2,285.3 302.8,285.3 305.3,285.3 307.9,285.3 310.4,285.3 313.0,285.3 315.5,285.3" fill="none" stroke="#00ff00" stroke-width="2" stroke-dasharray="1 3 5.2 3" stroke-linejoin="round" clip-path="url(#cC)"/><path d="M31.86 352.2v-2.5M31.86 218.4v2.5 M67.31 352.2v-2.5M67.31 218.4v2.5 M102.77 352.2v-2.5M102.77 218.4v2.5 M138.22 352.2v-2.5M138.22 218.4v2.5 M173.68 352.2v-2.5M173.68 218.4v2.5 M209.13 352.2v-2.5M209.13 218.4v2.5 M244.59 352.2v-2.5M244.59 218.4v2.5 M280.05 352.2v-2.5M280.05 218.4v2.5 M315.50 352.2v-2.5M315.50 218.4v2.5 M31.86 352.20h2.5M315.5 352.20h-2.5 M31.86 318.75h2.5M315.5 318.75h-2.5 M31.86 285.30h2.5M315.5 285.30h-2.5 M31.86 251.85h2.5M315.5 251.85h-2.5 M31.86 218.40h2.5M315.5 218.40h-2.5" stroke="#262626" stroke-width="0.8" fill="none"/><rect x="31.86" y="218.4" width="283.64" height="133.79999999999998" fill="none" stroke="#484848" stroke-width="1.2"/><text x="29.36" y="363.40" text-anchor="middle" class="tk">−4</text><text x="64.81" y="363.40" text-anchor="middle" class="tk">−3</text><text x="100.27" y="363.40" text-anchor="middle" class="tk">−2</text><text x="135.72" y="363.40" text-anchor="middle" class="tk">−1</text><text x="173.68" y="363.40" text-anchor="middle" class="tk">0</text><text x="209.13" y="363.40" text-anchor="middle" class="tk">1</text><text x="244.59" y="363.40" text-anchor="middle" class="tk">2</text><text x="280.05" y="363.40" text-anchor="middle" class="tk">3</text><text x="315.50" y="363.40" text-anchor="middle" class="tk">4</text><text x="29.06" y="355.80" text-anchor="end" class="tk">−4</text><text x="29.06" y="322.35" text-anchor="end" class="tk">−2</text><text x="29.06" y="288.90" text-anchor="end" class="tk">0</text><text x="29.06" y="255.45" text-anchor="end" class="tk">2</text><text x="29.06" y="222.00" text-anchor="end" class="tk">4</text><rect x="405.5" y="218.4" width="283.5" height="133.49999999999997" fill="#fff"/><path d="M440.94 218.4V351.9 M476.38 218.4V351.9 M511.81 218.4V351.9 M547.25 218.4V351.9 M582.69 218.4V351.9 M618.12 218.4V351.9 M653.56 218.4V351.9 M405.5 325.20H689.0 M405.5 298.50H689.0 M405.5 271.80H689.0 M405.5 245.10H689.0" stroke="#b4b4b4" stroke-width="0.6" stroke-dasharray="0.9 2.8" fill="none"/><polyline points="405.5,323.4 408.0,323.4 410.6,323.4 413.1,323.3 415.7,323.3 418.2,323.3 420.8,323.2 423.3,323.2 425.9,323.2 428.4,323.1 430.9,323.1 433.5,323.0 436.0,323.0 438.6,322.9 441.1,322.9 443.7,322.8 446.2,322.8 448.8,322.7 451.3,322.6 453.8,322.5 456.4,322.4 458.9,322.3 461.5,322.2 464.0,322.1 466.6,322.0 469.1,321.8 471.6,321.7 474.2,321.5 476.7,321.3 479.3,321.0 481.8,320.8 484.4,320.4 486.9,320.1 489.5,319.7 492.0,319.2 494.5,318.6 497.1,317.9 499.6,317.1 502.2,316.1 504.7,314.9 504.9,314.7 505.2,314.6 505.4,314.5 505.6,314.4 505.8,314.2 506.0,314.1 506.2,314.0 506.4,313.8 506.6,313.7 506.9,313.6 507.1,313.4 507.3,313.3 507.5,313.1 507.7,313.0 507.9,312.8 508.1,312.7 508.3,312.5 508.6,312.3 508.8,312.2 509.0,312.0 509.2,311.8 509.4,311.6 509.6,311.5 509.8,311.3 510.1,311.1 510.3,310.9 510.5,310.7 510.7,310.5 510.9,310.3 511.1,310.0 511.3,309.8 511.5,309.6 511.8,309.4 512.0,309.1 512.2,308.9 512.4,308.6 512.6,308.4 512.8,308.1 513.0,307.9 513.3,307.6 513.5,307.3 513.7,307.1 513.9,306.8 514.1,306.5 514.3,306.2 514.5,305.9 514.7,305.6 515.0,305.3 515.2,305.0 515.4,304.7 515.6,304.3 515.8,304.0 516.0,303.7 516.2,303.3 516.4,303.0 516.7,302.6 516.9,302.3 517.1,301.9 517.3,301.5 517.5,301.2 517.7,300.8 517.9,300.4 518.2,300.0 518.4,299.6 518.6,299.2 518.8,298.8 519.0,298.4 519.2,298.0 519.4,297.6 519.6,297.2 519.9,296.7 520.1,296.3 520.3,295.9 520.5,295.4 520.7,295.0 520.9,294.6 521.1,294.1 521.4,293.7 521.6,293.2 521.8,292.8 522.0,292.4 522.2,291.9 522.4,291.5 522.6,291.1 522.8,290.6 523.1,290.2 523.3,289.8 523.5,289.4 523.7,289.0 523.9,288.6 524.1,288.2 524.3,287.8 524.5,287.4 524.8,287.1 525.0,286.7 525.2,286.4 525.4,286.1 525.6,285.8 525.8,285.5 526.0,285.3 526.3,285.0 526.5,284.8 526.7,284.6 526.9,284.4 527.1,284.3 527.3,284.2 527.5,284.1 527.7,284.0 528.0,283.9 528.2,283.9 528.4,283.9 528.6,283.9 528.8,283.9 529.0,283.9 529.2,284.0 529.5,284.1 529.7,284.2 529.9,284.3 530.1,284.5 530.3,284.6 530.5,284.8 530.7,285.0 530.9,285.3 531.2,285.5 531.4,285.8 531.6,286.0 531.8,286.3 532.0,286.6 532.2,286.9 532.4,287.3 532.6,287.6 532.9,287.9 533.1,288.3 533.3,288.6 533.5,289.0 533.7,289.4 533.9,289.7 534.1,290.1 534.4,290.5 534.6,290.8 534.8,291.2 535.0,291.5 535.2,291.9 535.4,292.3 535.6,292.6 535.8,293.0 536.1,293.3 536.3,293.6 536.5,294.0 536.7,294.3 536.9,294.6 537.1,294.9 537.3,295.2 537.6,295.5 537.8,295.8 538.0,296.0 538.2,296.3 538.4,296.6 538.6,296.8 538.8,297.1 539.0,297.3 539.3,297.5 539.5,297.7 539.7,298.0 539.9,298.2 540.1,298.4 540.3,298.6 540.5,298.7 540.7,298.9 541.0,299.1 541.2,299.2 541.4,299.4 541.6,299.5 541.8,299.6 542.0,299.7 542.2,299.8 542.5,299.9 542.7,300.0 542.9,300.1 543.1,300.2 543.3,300.2 543.5,300.3 543.7,300.3 543.9,300.4 544.2,300.4 544.4,300.4 544.6,300.4 544.8,300.4 545.0,300.4 545.2,300.4 545.4,300.3 545.7,300.3 545.9,300.3 546.1,300.2 546.3,300.1 546.5,300.1 546.7,300.0 546.9,299.9 547.1,299.8 547.4,299.7 547.6,299.6 547.8,299.4 548.0,299.3 548.2,299.2 548.4,299.0 548.6,298.9 548.8,298.7 549.1,298.5 549.3,298.4 549.5,298.2 549.7,298.0 549.9,297.8 550.1,297.6 550.3,297.3 550.6,297.1 550.8,296.9 551.0,296.6 551.2,296.4 551.4,296.1 551.6,295.9 551.8,295.6 552.0,295.3 552.3,295.0 552.5,294.7 552.7,294.4 552.9,294.1 553.1,293.8 553.3,293.5 553.5,293.1 553.8,292.8 554.0,292.5 554.2,292.1 554.4,291.8 554.6,291.4 554.8,291.0 555.0,290.7 555.2,290.3 555.5,289.9 555.7,289.5 555.9,289.1 556.1,288.7 556.3,288.3 556.5,287.9 556.7,287.5 556.9,287.1 557.2,286.8 557.4,286.4 557.6,286.0 557.8,285.6 558.0,285.2 558.2,284.8 558.4,284.4 558.7,284.1 558.9,283.7 559.1,283.4 559.3,283.0 559.5,282.7 559.7,282.4 559.9,282.1 560.1,281.8 560.4,281.6 560.6,281.3 560.8,281.1 561.0,280.9 561.2,280.7 561.4,280.5 561.6,280.3 561.9,280.2 562.1,280.1 562.3,280.0 562.5,279.9 562.7,279.8 562.9,279.8 563.1,279.8 563.3,279.8 563.6,279.9 563.8,279.9 564.0,280.0 564.2,280.1 564.4,280.2 564.6,280.4 564.8,280.6 565.0,280.7 565.3,281.0 565.5,281.2 565.7,281.5 565.9,281.7 566.1,282.1 566.3,282.4 566.5,282.7 566.8,283.1 567.0,283.5 567.2,283.8 567.4,284.3 567.6,284.7 567.8,285.1 568.0,285.5 568.2,286.0 568.5,286.4 568.7,286.9 568.9,287.4 569.1,287.8 569.3,288.3 569.5,288.8 569.7,289.2 570.0,289.7 570.2,290.2 570.4,290.6 570.6,291.1 570.8,291.6 571.0,292.1 571.2,292.5 571.4,293.0 571.7,293.5 571.9,293.9 572.1,294.4 572.3,294.9 572.5,295.3 572.7,295.8 572.9,296.2 573.1,296.7 573.4,297.1 573.6,297.5 573.8,298.0 574.0,298.4 574.2,298.8 574.4,299.2 574.6,299.6 574.9,300.0 575.1,300.4 575.3,300.8 575.5,301.2 575.7,301.6 575.9,301.9 576.1,302.3 576.3,302.6 576.6,303.0 576.8,303.3 577.0,303.7 577.2,304.0 577.4,304.3 577.6,304.6 577.8,304.9 578.1,305.2 578.3,305.5 578.5,305.8 578.7,306.1 578.9,306.4 579.1,306.6 579.3,306.9 579.5,307.2 579.8,307.4 580.0,307.7 580.2,307.9 580.4,308.1 580.6,308.4 580.8,308.6 581.0,308.8 581.2,309.1 581.5,309.3 581.7,309.5 581.9,309.7 582.1,309.9 582.3,310.1 582.5,310.3 582.7,310.5 583.0,310.7 583.2,310.9 583.4,311.1 583.6,311.2 583.8,311.4 584.0,311.6 584.2,311.7 584.4,311.9 584.7,312.1 584.9,312.2 585.1,312.4 585.3,312.6 585.5,312.7 585.7,312.9 585.9,313.0 586.2,313.2 586.4,313.3 586.6,313.5 586.8,313.6 587.0,313.7 587.2,313.9 587.4,314.0 587.6,314.1 587.9,314.3 588.1,314.4 588.3,314.5 588.5,314.6 588.7,314.7 588.9,314.9 589.1,315.0 589.3,315.1 589.6,315.2 589.8,315.3 592.3,316.5 594.9,317.4 597.4,318.2 600.0,318.9 602.5,319.4 605.0,319.9 607.6,320.3 610.1,320.6 612.7,320.9 615.2,321.2 617.8,321.4 620.3,321.6 622.9,321.8 625.4,322.0 627.9,322.1 630.5,322.2 633.0,322.3 635.6,322.4 638.1,322.5 640.7,322.6 643.2,322.7 645.7,322.8 648.3,322.8 650.8,322.9 653.4,322.9 655.9,323.0 658.5,323.0 661.0,323.1 663.6,323.1 666.1,323.2 668.6,323.2 671.2,323.2 673.7,323.3 676.3,323.3 678.8,323.3 681.4,323.3 683.9,323.4 686.5,323.4 689.0,323.4" fill="none" stroke="#ff0000" stroke-width="2" stroke-linejoin="round" clip-path="url(#cD)"/><polyline points="405.5,324.8 408.0,324.8 410.6,324.8 413.1,324.8 415.7,324.8 418.2,324.7 420.8,324.7 423.3,324.7 425.9,324.7 428.4,324.6 430.9,324.6 433.5,324.6 436.0,324.6 438.6,324.5 441.1,324.5 443.7,324.5 446.2,324.4 448.8,324.4 451.3,324.3 453.8,324.3 456.4,324.2 458.9,324.1 461.5,324.1 464.0,324.0 466.6,323.9 469.1,323.8 471.6,323.7 474.2,323.6 476.7,323.5 479.3,323.3 481.8,323.1 484.4,322.9 486.9,322.7 489.5,322.4 492.0,322.1 494.5,321.7 497.1,321.2 499.6,320.6 502.2,319.8 504.7,318.9 504.9,318.8 505.2,318.7 505.4,318.6 505.6,318.5 505.8,318.4 506.0,318.3 506.2,318.2 506.4,318.1 506.6,318.0 506.9,317.8 507.1,317.7 507.3,317.6 507.5,317.5 507.7,317.4 507.9,317.2 508.1,317.1 508.3,316.9 508.6,316.8 508.8,316.7 509.0,316.5 509.2,316.4 509.4,316.2 509.6,316.0 509.8,315.9 510.1,315.7 510.3,315.5 510.5,315.3 510.7,315.1 510.9,314.9 511.1,314.7 511.3,314.5 511.5,314.3 511.8,314.1 512.0,313.9 512.2,313.6 512.4,313.4 512.6,313.1 512.8,312.9 513.0,312.6 513.3,312.3 513.5,312.0 513.7,311.7 513.9,311.4 514.1,311.1 514.3,310.8 514.5,310.4 514.7,310.1 515.0,309.7 515.2,309.3 515.4,308.9 515.6,308.5 515.8,308.1 516.0,307.6 516.2,307.1 516.4,306.6 516.7,306.1 516.9,305.5 517.1,304.9 517.3,304.3 517.5,303.7 517.7,303.0 517.9,302.3 518.2,301.6 518.4,300.9 518.6,300.1 518.8,299.4 519.0,298.5 519.2,297.7 519.4,296.8 519.6,295.8 519.9,294.9 520.1,293.9 520.3,292.8 520.5,291.7 520.7,290.5 520.9,289.3 521.1,288.1 521.4,286.8 521.6,285.4 521.8,284.0 522.0,282.5 522.2,281.0 522.4,279.4 522.6,277.8 522.8,276.1 523.1,274.3 523.3,272.5 523.5,270.5 523.7,268.6 523.9,266.6 524.1,264.5 524.3,262.4 524.5,260.3 524.8,258.2 525.0,256.1 525.2,253.9 525.4,251.8 525.6,249.8 525.8,247.8 526.0,245.9 526.3,244.2 526.5,242.6 526.7,241.2 526.9,240.0 527.1,239.1 527.3,238.5 527.5,238.1 527.7,238.1 528.0,238.4 528.2,238.9 528.4,239.8 528.6,241.0 528.8,242.5 529.0,244.2 529.2,246.2 529.5,248.4 529.7,250.8 529.9,253.3 530.1,255.9 530.3,258.6 530.5,261.4 530.7,264.2 530.9,267.0 531.2,269.8 531.4,272.5 531.6,275.2 531.8,277.8 532.0,280.2 532.2,282.5 532.4,284.7 532.6,286.8 532.9,288.8 533.1,290.6 533.3,292.4 533.5,294.0 533.7,295.5 533.9,297.0 534.1,298.3 534.4,299.6 534.6,300.8 534.8,301.9 535.0,303.0 535.2,304.0 535.4,305.0 535.6,305.9 535.8,306.7 536.1,307.5 536.3,308.2 536.5,308.9 536.7,309.5 536.9,310.1 537.1,310.7 537.3,311.3 537.6,311.8 537.8,312.3 538.0,312.8 538.2,313.3 538.4,313.7 538.6,314.1 538.8,314.5 539.0,314.9 539.3,315.3 539.5,315.6 539.7,315.9 539.9,316.2 540.1,316.5 540.3,316.7 540.5,317.0 540.7,317.2 541.0,317.4 541.2,317.6 541.4,317.8 541.6,317.9 541.8,318.1 542.0,318.2 542.2,318.4 542.5,318.5 542.7,318.6 542.9,318.7 543.1,318.8 543.3,318.9 543.5,318.9 543.7,319.0 543.9,319.0 544.2,319.1 544.4,319.1 544.6,319.1 544.8,319.1 545.0,319.1 545.2,319.1 545.4,319.1 545.7,319.0 545.9,319.0 546.1,318.9 546.3,318.9 546.5,318.8 546.7,318.7 546.9,318.6 547.1,318.5 547.4,318.4 547.6,318.3 547.8,318.1 548.0,318.0 548.2,317.8 548.4,317.7 548.6,317.5 548.8,317.3 549.1,317.1 549.3,316.9 549.5,316.6 549.7,316.4 549.9,316.2 550.1,315.9 550.3,315.6 550.6,315.4 550.8,315.1 551.0,314.8 551.2,314.4 551.4,314.1 551.6,313.8 551.8,313.4 552.0,313.0 552.3,312.6 552.5,312.2 552.7,311.7 552.9,311.3 553.1,310.8 553.3,310.3 553.5,309.8 553.8,309.2 554.0,308.6 554.2,308.0 554.4,307.4 554.6,306.7 554.8,306.0 555.0,305.3 555.2,304.5 555.5,303.7 555.7,302.8 555.9,301.9 556.1,301.0 556.3,300.0 556.5,298.9 556.7,297.8 556.9,296.6 557.2,295.4 557.4,294.1 557.6,292.7 557.8,291.3 558.0,289.8 558.2,288.2 558.4,286.5 558.7,284.8 558.9,282.9 559.1,281.1 559.3,279.1 559.5,277.0 559.7,274.9 559.9,272.7 560.1,270.4 560.4,268.1 560.6,265.7 560.8,263.3 561.0,260.8 561.2,258.3 561.4,255.8 561.6,253.3 561.9,250.9 562.1,248.5 562.3,246.4 562.5,244.3 562.7,242.5 562.9,240.8 563.1,239.4 563.3,238.2 563.6,237.3 563.8,236.7 564.0,236.3 564.2,236.3 564.4,236.6 564.6,237.1 564.8,237.9 565.0,239.0 565.3,240.4 565.5,241.9 565.7,243.7 565.9,245.6 566.1,247.6 566.3,249.7 566.5,251.9 566.8,254.2 567.0,256.4 567.2,258.7 567.4,260.9 567.6,263.1 567.8,265.2 568.0,267.2 568.2,269.2 568.5,271.1 568.7,273.0 568.9,274.8 569.1,276.6 569.3,278.2 569.5,279.9 569.7,281.4 570.0,282.9 570.2,284.3 570.4,285.6 570.6,286.9 570.8,288.2 571.0,289.4 571.2,290.5 571.4,291.6 571.7,292.7 571.9,293.7 572.1,294.7 572.3,295.6 572.5,296.5 572.7,297.4 572.9,298.2 573.1,299.0 573.4,299.7 573.6,300.4 573.8,301.1 574.0,301.8 574.2,302.4 574.4,303.0 574.6,303.6 574.9,304.2 575.1,304.7 575.3,305.2 575.5,305.7 575.7,306.2 575.9,306.6 576.1,307.1 576.3,307.5 576.6,308.0 576.8,308.4 577.0,308.8 577.2,309.1 577.4,309.5 577.6,309.9 577.8,310.2 578.1,310.5 578.3,310.8 578.5,311.2 578.7,311.4 578.9,311.7 579.1,312.0 579.3,312.3 579.5,312.5 579.8,312.8 580.0,313.0 580.2,313.3 580.4,313.5 580.6,313.7 580.8,313.9 581.0,314.2 581.2,314.4 581.5,314.6 581.7,314.8 581.9,315.0 582.1,315.1 582.3,315.3 582.5,315.5 582.7,315.7 583.0,315.8 583.2,316.0 583.4,316.2 583.6,316.3 583.8,316.5 584.0,316.6 584.2,316.8 584.4,316.9 584.7,317.0 584.9,317.2 585.1,317.3 585.3,317.4 585.5,317.6 585.7,317.7 585.9,317.8 586.2,317.9 586.4,318.0 586.6,318.1 586.8,318.2 587.0,318.3 587.2,318.4 587.4,318.5 587.6,318.6 587.9,318.7 588.1,318.8 588.3,318.9 588.5,319.0 588.7,319.1 588.9,319.2 589.1,319.3 589.3,319.3 589.6,319.4 589.8,319.5 592.3,320.3 594.9,321.0 597.4,321.5 600.0,321.9 602.5,322.3 605.0,322.6 607.6,322.8 610.1,323.1 612.7,323.3 615.2,323.4 617.8,323.6 620.3,323.7 622.9,323.8 625.4,323.9 627.9,324.0 630.5,324.1 633.0,324.1 635.6,324.2 638.1,324.3 640.7,324.3 643.2,324.4 645.7,324.4 648.3,324.5 650.8,324.5 653.4,324.5 655.9,324.6 658.5,324.6 661.0,324.6 663.6,324.6 666.1,324.7 668.6,324.7 671.2,324.7 673.7,324.7 676.3,324.8 678.8,324.8 681.4,324.8 683.9,324.8 686.5,324.8 689.0,324.8" fill="none" stroke="#0000ff" stroke-width="2.3" stroke-dasharray="5.4 4.5" stroke-linejoin="round" clip-path="url(#cD)"/><polyline points="405.5,324.2 408.0,324.2 410.6,324.1 413.1,324.1 415.7,324.1 418.2,324.1 420.8,324.0 423.3,324.0 425.9,324.0 428.4,324.0 430.9,323.9 433.5,323.9 436.0,323.8 438.6,323.8 441.1,323.8 443.7,323.7 446.2,323.7 448.8,323.6 451.3,323.5 453.8,323.5 456.4,323.4 458.9,323.3 461.5,323.2 464.0,323.1 466.6,323.0 469.1,322.9 471.6,322.8 474.2,322.6 476.7,322.5 479.3,322.3 481.8,322.1 484.4,321.8 486.9,321.5 489.5,321.2 492.0,320.8 494.5,320.3 497.1,319.8 499.6,319.1 502.2,318.2 504.7,317.2 504.9,317.1 505.2,317.0 505.4,316.9 505.6,316.8 505.8,316.7 506.0,316.5 506.2,316.4 506.4,316.3 506.6,316.2 506.9,316.1 507.1,316.0 507.3,315.8 507.5,315.7 507.7,315.6 507.9,315.4 508.1,315.3 508.3,315.1 508.6,315.0 508.8,314.9 509.0,314.7 509.2,314.5 509.4,314.4 509.6,314.2 509.8,314.1 510.1,313.9 510.3,313.7 510.5,313.5 510.7,313.3 510.9,313.1 511.1,312.9 511.3,312.7 511.5,312.5 511.8,312.3 512.0,312.1 512.2,311.9 512.4,311.7 512.6,311.4 512.8,311.2 513.0,310.9 513.3,310.7 513.5,310.4 513.7,310.2 513.9,309.9 514.1,309.6 514.3,309.3 514.5,309.0 514.7,308.7 515.0,308.4 515.2,308.0 515.4,307.7 515.6,307.3 515.8,307.0 516.0,306.6 516.2,306.2 516.4,305.8 516.7,305.4 516.9,305.0 517.1,304.5 517.3,304.1 517.5,303.6 517.7,303.1 517.9,302.6 518.2,302.1 518.4,301.6 518.6,301.0 518.8,300.5 519.0,299.9 519.2,299.3 519.4,298.7 519.6,298.0 519.9,297.4 520.1,296.7 520.3,296.0 520.5,295.3 520.7,294.5 520.9,293.8 521.1,293.0 521.4,292.2 521.6,291.3 521.8,290.5 522.0,289.6 522.2,288.7 522.4,287.7 522.6,286.8 522.8,285.8 523.1,284.9 523.3,283.9 523.5,282.9 523.7,281.9 523.9,280.9 524.1,279.9 524.3,278.9 524.5,277.9 524.8,277.0 525.0,276.0 525.2,275.1 525.4,274.3 525.6,273.4 525.8,272.7 526.0,272.0 526.3,271.4 526.5,270.8 526.7,270.4 526.9,270.1 527.1,269.9 527.3,269.8 527.5,269.8 527.7,269.9 528.0,270.2 528.2,270.6 528.4,271.1 528.6,271.8 528.8,272.6 529.0,273.5 529.2,274.5 529.5,275.6 529.7,276.8 529.9,278.1 530.1,279.5 530.3,281.0 530.5,282.5 530.7,284.0 530.9,285.6 531.2,287.2 531.4,288.9 531.6,290.5 531.8,292.1 532.0,293.7 532.2,295.3 532.4,296.9 532.6,298.4 532.9,299.9 533.1,301.3 533.3,302.6 533.5,304.0 533.7,305.2 533.9,306.4 534.1,307.5 534.4,308.6 534.6,309.7 534.8,310.6 535.0,311.6 535.2,312.5 535.4,313.3 535.6,314.1 535.8,314.9 536.1,315.6 536.3,316.3 536.5,316.9 536.7,317.5 536.9,318.1 537.1,318.6 537.3,319.1 537.6,319.6 537.8,320.1 538.0,320.5 538.2,320.9 538.4,321.2 538.6,321.6 538.8,321.9 539.0,322.2 539.3,322.5 539.5,322.8 539.7,323.0 539.9,323.3 540.1,323.5 540.3,323.7 540.5,323.9 540.7,324.1 541.0,324.3 541.2,324.4 541.4,324.6 541.6,324.7 541.8,324.8 542.0,324.9 542.2,325.0 542.5,325.1 542.7,325.2 542.9,325.3 543.1,325.3 543.3,325.4 543.5,325.4 543.7,325.5 543.9,325.5 544.2,325.5 544.4,325.5 544.6,325.5 544.8,325.5 545.0,325.5 545.2,325.5 545.4,325.5 545.7,325.6 545.9,325.8 546.1,327.3 546.3,327.3 546.5,325.7 546.7,325.3 546.9,325.1 547.1,325.0 547.4,324.9 547.6,324.7 547.8,324.6 548.0,324.5 548.2,324.4 548.4,324.2 548.6,324.1 548.8,323.9 549.1,323.8 549.3,323.6 549.5,323.4 549.7,323.2 549.9,323.0 550.1,322.8 550.3,322.6 550.6,322.4 550.8,322.1 551.0,321.9 551.2,321.6 551.4,321.3 551.6,321.0 551.8,320.7 552.0,320.4 552.3,320.1 552.5,319.7 552.7,319.4 552.9,319.0 553.1,318.6 553.3,318.1 553.5,317.7 553.8,317.2 554.0,316.8 554.2,316.2 554.4,315.7 554.6,315.1 554.8,314.6 555.0,313.9 555.2,313.3 555.5,312.6 555.7,311.9 555.9,311.1 556.1,310.3 556.3,309.5 556.5,308.6 556.7,307.7 556.9,306.8 557.2,305.8 557.4,304.8 557.6,303.7 557.8,302.6 558.0,301.5 558.2,300.4 558.4,299.2 558.7,297.9 558.9,296.7 559.1,295.4 559.3,294.0 559.5,292.7 559.7,291.3 559.9,289.9 560.1,288.5 560.4,287.1 560.6,285.8 560.8,284.4 561.0,283.0 561.2,281.7 561.4,280.4 561.6,279.2 561.9,278.0 562.1,276.8 562.3,275.7 562.5,274.8 562.7,273.8 562.9,273.0 563.1,272.3 563.3,271.7 563.6,271.2 563.8,270.8 564.0,270.5 564.2,270.3 564.4,270.3 564.6,270.4 564.8,270.6 565.0,270.8 565.3,271.2 565.5,271.7 565.7,272.2 565.9,272.9 566.1,273.6 566.3,274.3 566.5,275.1 566.8,276.0 567.0,276.9 567.2,277.8 567.4,278.7 567.6,279.6 567.8,280.5 568.0,281.5 568.2,282.4 568.5,283.3 568.7,284.2 568.9,285.1 569.1,286.0 569.3,286.9 569.5,287.8 569.7,288.6 570.0,289.5 570.2,290.3 570.4,291.1 570.6,291.8 570.8,292.6 571.0,293.3 571.2,294.1 571.4,294.8 571.7,295.4 571.9,296.1 572.1,296.8 572.3,297.4 572.5,298.0 572.7,298.6 572.9,299.2 573.1,299.8 573.4,300.4 573.6,300.9 573.8,301.5 574.0,302.0 574.2,302.5 574.4,302.9 574.6,303.4 574.9,303.9 575.1,304.3 575.3,304.7 575.5,305.1 575.7,305.5 575.9,305.9 576.1,306.3 576.3,306.7 576.6,307.0 576.8,307.4 577.0,307.7 577.2,308.1 577.4,308.4 577.6,308.7 577.8,309.0 578.1,309.3 578.3,309.6 578.5,309.9 578.7,310.1 578.9,310.4 579.1,310.7 579.3,310.9 579.5,311.2 579.8,311.4 580.0,311.7 580.2,311.9 580.4,312.1 580.6,312.3 580.8,312.5 581.0,312.7 581.2,312.9 581.5,313.1 581.7,313.3 581.9,313.5 582.1,313.7 582.3,313.9 582.5,314.0 582.7,314.2 583.0,314.4 583.2,314.5 583.4,314.7 583.6,314.8 583.8,315.0 584.0,315.1 584.2,315.3 584.4,315.4 584.7,315.6 584.9,315.7 585.1,315.8 585.3,316.0 585.5,316.1 585.7,316.2 585.9,316.3 586.2,316.4 586.4,316.5 586.6,316.7 586.8,316.8 587.0,316.9 587.2,317.0 587.4,317.1 587.6,317.2 587.9,317.3 588.1,317.4 588.3,317.5 588.5,317.6 588.7,317.7 588.9,317.7 589.1,317.8 589.3,317.9 589.6,318.0 589.8,318.1 592.3,319.0 594.9,319.7 597.4,320.2 600.0,320.7 602.5,321.1 605.0,321.5 607.6,321.8 610.1,322.0 612.7,322.2 615.2,322.4 617.8,322.6 620.3,322.8 622.9,322.9 625.4,323.0 627.9,323.1 630.5,323.2 633.0,323.3 635.6,323.4 638.1,323.5 640.7,323.5 643.2,323.6 645.7,323.6 648.3,323.7 650.8,323.8 653.4,323.8 655.9,323.8 658.5,323.9 661.0,323.9 663.6,323.9 666.1,324.0 668.6,324.0 671.2,324.0 673.7,324.1 676.3,324.1 678.8,324.1 681.4,324.1 683.9,324.1 686.5,324.2 689.0,324.2" fill="none" stroke="#303030" stroke-width="1.25" stroke-dasharray="1.1 2.6" stroke-linejoin="round" clip-path="url(#cD)"/><polyline points="405.5,322.7 408.0,322.7 410.6,322.6 413.1,322.5 415.7,322.4 418.2,322.3 420.8,322.2 423.3,322.1 425.9,322.0 428.4,321.8 430.9,321.7 433.5,321.6 436.0,321.4 438.6,321.3 441.1,321.1 443.7,321.0 446.2,320.8 448.8,320.6 451.3,320.4 453.8,320.2 456.4,320.0 458.9,319.7 461.5,319.5 464.0,319.2 466.6,319.0 469.1,318.7 471.6,318.3 474.2,318.0 476.7,317.6 479.3,317.3 481.8,316.9 484.4,316.4 486.9,316.0 489.5,315.5 492.0,315.0 494.5,314.4 497.1,313.8 499.6,313.2 502.2,312.6 504.7,311.9 504.9,311.8 505.2,311.8 505.4,311.7 505.6,311.7 505.8,311.6 506.0,311.5 506.2,311.5 506.4,311.4 506.6,311.4 506.9,311.3 507.1,311.2 507.3,311.2 507.5,311.1 507.7,311.1 507.9,311.0 508.1,310.9 508.3,310.9 508.6,310.8 508.8,310.8 509.0,310.7 509.2,310.6 509.4,310.6 509.6,310.5 509.8,310.4 510.1,310.4 510.3,310.3 510.5,310.2 510.7,310.2 510.9,310.1 511.1,310.0 511.3,310.0 511.5,309.9 511.8,309.8 512.0,309.8 512.2,309.7 512.4,309.6 512.6,309.6 512.8,309.5 513.0,309.4 513.3,309.4 513.5,309.3 513.7,309.2 513.9,309.2 514.1,309.1 514.3,309.0 514.5,309.0 514.7,308.9 515.0,308.8 515.2,308.8 515.4,308.7 515.6,308.6 515.8,308.5 516.0,308.5 516.2,308.4 516.4,308.3 516.7,308.3 516.9,308.2 517.1,308.1 517.3,308.0 517.5,308.0 517.7,307.9 517.9,307.8 518.2,307.8 518.4,307.7 518.6,307.6 518.8,307.5 519.0,307.5 519.2,307.4 519.4,307.3 519.6,307.2 519.9,307.2 520.1,307.1 520.3,307.0 520.5,306.9 520.7,306.9 520.9,306.8 521.1,306.7 521.4,306.6 521.6,306.5 521.8,306.5 522.0,306.4 522.2,306.3 522.4,306.2 522.6,306.1 522.8,306.1 523.1,306.0 523.3,305.9 523.5,305.8 523.7,305.8 523.9,305.7 524.1,305.6 524.3,305.5 524.5,305.4 524.8,305.4 525.0,305.3 525.2,305.2 525.4,305.1 525.6,305.0 525.8,305.0 526.0,304.9 526.3,304.8 526.5,304.7 526.7,304.6 526.9,304.5 527.1,304.4 527.3,304.4 527.5,304.3 527.7,304.2 528.0,304.1 528.2,304.0 528.4,303.9 528.6,303.8 528.8,303.7 529.0,303.5 529.2,303.4 529.5,303.3 529.7,303.2 529.9,303.1 530.1,302.9 530.3,302.8 530.5,302.7 530.7,302.5 530.9,302.4 531.2,302.2 531.4,302.1 531.6,301.9 531.8,301.8 532.0,301.6 532.2,301.5 532.4,301.3 532.6,301.2 532.9,301.0 533.1,300.8 533.3,300.7 533.5,300.5 533.7,300.3 533.9,300.1 534.1,299.9 534.4,299.8 534.6,299.6 534.8,299.4 535.0,299.2 535.2,299.0 535.4,298.8 535.6,298.6 535.8,298.4 536.1,298.2 536.3,297.9 536.5,297.7 536.7,297.5 536.9,297.2 537.1,297.0 537.3,296.7 537.6,296.5 537.8,296.2 538.0,295.9 538.2,295.6 538.4,295.3 538.6,295.0 538.8,294.7 539.0,294.4 539.3,294.0 539.5,293.7 539.7,293.4 539.9,293.0 540.1,292.6 540.3,292.3 540.5,291.9 540.7,291.5 541.0,291.1 541.2,290.7 541.4,290.3 541.6,289.8 541.8,289.4 542.0,289.0 542.2,288.6 542.5,288.1 542.7,287.7 542.9,287.3 543.1,286.9 543.3,286.5 543.5,286.1 543.7,285.7 543.9,285.4 544.2,285.1 544.4,284.9 544.6,284.6 544.8,284.5 545.0,284.3 545.2,284.3 545.4,284.2 545.7,284.2 545.9,284.3 546.1,284.4 546.3,284.5 546.5,284.7 546.7,284.9 546.9,285.2 547.1,285.5 547.4,285.9 547.6,286.3 547.8,286.7 548.0,287.1 548.2,287.6 548.4,288.0 548.6,288.5 548.8,289.0 549.1,289.5 549.3,290.0 549.5,290.4 549.7,290.9 549.9,291.4 550.1,291.8 550.3,292.2 550.6,292.6 550.8,293.0 551.0,293.4 551.2,293.8 551.4,294.2 551.6,294.5 551.8,294.9 552.0,295.2 552.3,295.5 552.5,295.9 552.7,296.2 552.9,296.5 553.1,296.8 553.3,297.0 553.5,297.3 553.8,297.6 554.0,297.8 554.2,298.1 554.4,298.3 554.6,298.5 554.8,298.7 555.0,298.9 555.2,299.2 555.5,299.3 555.7,299.5 555.9,299.7 556.1,299.9 556.3,300.1 556.5,300.2 556.7,300.4 556.9,300.5 557.2,300.7 557.4,300.8 557.6,301.0 557.8,301.1 558.0,301.3 558.2,301.4 558.4,301.5 558.7,301.6 558.9,301.7 559.1,301.9 559.3,302.0 559.5,302.1 559.7,302.2 559.9,302.3 560.1,302.4 560.4,302.5 560.6,302.6 560.8,302.7 561.0,302.8 561.2,302.9 561.4,303.0 561.6,303.1 561.9,303.2 562.1,303.3 562.3,303.4 562.5,303.5 562.7,303.5 562.9,303.6 563.1,303.7 563.3,303.8 563.6,303.9 563.8,304.0 564.0,304.0 564.2,304.1 564.4,304.2 564.6,304.3 564.8,304.3 565.0,304.4 565.3,304.5 565.5,304.6 565.7,304.7 565.9,304.7 566.1,304.8 566.3,304.9 566.5,305.0 566.8,305.0 567.0,305.1 567.2,305.2 567.4,305.3 567.6,305.3 567.8,305.4 568.0,305.5 568.2,305.6 568.5,305.7 568.7,305.7 568.9,305.8 569.1,305.9 569.3,306.0 569.5,306.1 569.7,306.1 570.0,306.2 570.2,306.3 570.4,306.4 570.6,306.5 570.8,306.5 571.0,306.6 571.2,306.7 571.4,306.8 571.7,306.8 571.9,306.9 572.1,307.0 572.3,307.1 572.5,307.2 572.7,307.2 572.9,307.3 573.1,307.4 573.4,307.5 573.6,307.5 573.8,307.6 574.0,307.7 574.2,307.7 574.4,307.8 574.6,307.9 574.9,308.0 575.1,308.0 575.3,308.1 575.5,308.2 575.7,308.3 575.9,308.3 576.1,308.4 576.3,308.5 576.6,308.5 576.8,308.6 577.0,308.7 577.2,308.8 577.4,308.8 577.6,308.9 577.8,309.0 578.1,309.0 578.3,309.1 578.5,309.2 578.7,309.2 578.9,309.3 579.1,309.4 579.3,309.4 579.5,309.5 579.8,309.6 580.0,309.6 580.2,309.7 580.4,309.8 580.6,309.8 580.8,309.9 581.0,310.0 581.2,310.0 581.5,310.1 581.7,310.2 581.9,310.2 582.1,310.3 582.3,310.4 582.5,310.4 582.7,310.5 583.0,310.6 583.2,310.6 583.4,310.7 583.6,310.7 583.8,310.8 584.0,310.9 584.2,310.9 584.4,311.0 584.7,311.1 584.9,311.1 585.1,311.2 585.3,311.2 585.5,311.3 585.7,311.4 585.9,311.4 586.2,311.5 586.4,311.5 586.6,311.6 586.8,311.7 587.0,311.7 587.2,311.8 587.4,311.8 587.6,311.9 587.9,312.0 588.1,312.0 588.3,312.1 588.5,312.1 588.7,312.2 588.9,312.2 589.1,312.3 589.3,312.4 589.6,312.4 589.8,312.5 592.3,313.1 594.9,313.7 597.4,314.3 600.0,314.9 602.5,315.4 605.0,315.9 607.6,316.4 610.1,316.8 612.7,317.2 615.2,317.6 617.8,317.9 620.3,318.3 622.9,318.6 625.4,318.9 627.9,319.2 630.5,319.5 633.0,319.7 635.6,319.9 638.1,320.2 640.7,320.4 643.2,320.6 645.7,320.8 648.3,320.9 650.8,321.1 653.4,321.3 655.9,321.4 658.5,321.6 661.0,321.7 663.6,321.8 666.1,321.9 668.6,322.1 671.2,322.2 673.7,322.3 676.3,322.4 678.8,322.5 681.4,322.6 683.9,322.6 686.5,322.7 689.0,322.8" fill="none" stroke="#00ff00" stroke-width="2" stroke-dasharray="1 3 5.2 3" stroke-linejoin="round" clip-path="url(#cD)"/><path d="M405.50 351.9v-2.5M405.50 218.4v2.5 M440.94 351.9v-2.5M440.94 218.4v2.5 M476.38 351.9v-2.5M476.38 218.4v2.5 M511.81 351.9v-2.5M511.81 218.4v2.5 M547.25 351.9v-2.5M547.25 218.4v2.5 M582.69 351.9v-2.5M582.69 218.4v2.5 M618.12 351.9v-2.5M618.12 218.4v2.5 M653.56 351.9v-2.5M653.56 218.4v2.5 M689.00 351.9v-2.5M689.00 218.4v2.5 M405.5 351.90h2.5M689.0 351.90h-2.5 M405.5 325.20h2.5M689.0 325.20h-2.5 M405.5 298.50h2.5M689.0 298.50h-2.5 M405.5 271.80h2.5M689.0 271.80h-2.5 M405.5 245.10h2.5M689.0 245.10h-2.5 M405.5 218.40h2.5M689.0 218.40h-2.5" stroke="#262626" stroke-width="0.8" fill="none"/><rect x="405.5" y="218.4" width="283.5" height="133.49999999999997" fill="none" stroke="#484848" stroke-width="1.2"/><text x="403.00" y="363.10" text-anchor="middle" class="tk">−4</text><text x="438.44" y="363.10" text-anchor="middle" class="tk">−3</text><text x="473.88" y="363.10" text-anchor="middle" class="tk">−2</text><text x="509.31" y="363.10" text-anchor="middle" class="tk">−1</text><text x="547.25" y="363.10" text-anchor="middle" class="tk">0</text><text x="582.69" y="363.10" text-anchor="middle" class="tk">1</text><text x="618.12" y="363.10" text-anchor="middle" class="tk">2</text><text x="653.56" y="363.10" text-anchor="middle" class="tk">3</text><text x="689.00" y="363.10" text-anchor="middle" class="tk">4</text><text x="402.70" y="355.50" text-anchor="end" class="tk">−2</text><text x="402.70" y="328.80" text-anchor="end" class="tk">0</text><text x="402.70" y="302.10" text-anchor="end" class="tk">2</text><text x="402.70" y="275.40" text-anchor="end" class="tk">4</text><text x="402.70" y="248.70" text-anchor="end" class="tk">6</text><text x="402.70" y="222.00" text-anchor="end" class="tk">8</text><rect x="592.3" y="191.6" width="91.30000000000007" height="81.79999999999998" fill="#fff"/><path d="M637.95 191.6V273.4 M592.3 252.95H683.6 M592.3 232.50H683.6 M592.3 212.05H683.6" stroke="#b4b4b4" stroke-width="0.6" stroke-dasharray="0.9 2.8" fill="none"/><polyline points="592.3,68.9 592.6,71.0 592.9,73.0 593.2,75.1 593.5,77.1 593.8,79.2 594.1,81.2 594.4,83.3 594.7,85.3 595.0,87.4 595.4,89.4 595.7,91.5 596.0,93.5 596.3,95.6 596.6,97.6 596.9,99.7 597.2,101.7 597.5,103.8 597.8,105.8 598.1,107.9 598.4,109.9 598.7,112.0 599.0,114.0 599.3,116.1 599.6,118.1 599.9,120.2 600.2,122.2 600.5,124.3 600.8,126.4 601.2,128.4 601.5,130.5 601.8,132.5 602.1,134.6 602.4,136.8 602.7,138.9 603.0,141.1 603.3,143.3 603.6,145.5 603.9,147.7 604.2,149.9 604.5,152.1 604.8,154.3 605.1,156.5 605.4,158.8 605.7,161.0 606.0,163.1 606.3,165.3 606.7,167.4 607.0,169.6 607.3,171.7 607.6,173.7 607.9,175.8 608.2,177.7 608.5,179.7 608.8,181.6 609.1,183.5 609.4,185.3 609.7,187.0 610.0,188.7 610.3,190.3 610.6,191.9 610.9,193.4 611.2,194.9 611.5,196.4 611.8,197.9 612.1,199.3 612.5,200.7 612.8,202.1 613.1,203.4 613.4,204.7 613.7,205.9 614.0,207.1 614.3,208.2 614.6,209.4 614.9,210.4 615.2,211.4 615.5,212.4 615.8,213.3 616.1,214.3 616.4,215.2 616.7,216.1 617.0,217.0 617.3,217.8 617.6,218.6 617.9,219.4 618.3,220.1 618.6,220.7 618.9,221.4 619.2,221.9 619.5,222.4 619.8,222.8 620.1,223.2 620.4,223.6 620.7,223.9 621.0,224.3 621.3,224.6 621.6,225.0 621.9,225.3 622.2,225.6 622.5,225.9 622.8,226.2 623.1,226.5 623.4,226.7 623.8,227.0 624.1,227.2 624.4,227.5 624.7,227.7 625.0,227.9 625.3,228.1 625.6,228.4 625.9,228.5 626.2,228.7 626.5,228.9 626.8,229.1 627.1,229.3 627.4,229.4 627.7,229.6 628.0,229.7 628.3,229.8 628.6,230.0 628.9,230.1 629.2,230.2 629.6,230.3 629.9,230.5 630.2,230.6 630.5,230.7 630.8,230.8 631.1,230.9 631.4,231.0 631.7,231.1 632.0,231.2 632.3,231.3 632.6,231.4 632.9,231.5 633.2,231.5 633.5,231.6 633.8,231.6 634.1,231.7 634.4,231.7 634.7,231.7 635.0,231.7 635.4,231.7 635.7,231.6 636.0,231.6 636.3,231.6 636.6,231.5 636.9,231.4 637.2,231.4 637.5,231.3 637.8,231.2 638.1,231.1 638.4,231.0 638.7,230.9 639.0,230.8 639.3,230.7 639.6,230.6 639.9,230.4 640.2,230.3 640.5,230.2 640.9,230.0 641.2,229.9 641.5,229.7 641.8,229.6 642.1,229.4 642.4,229.3 642.7,229.1 643.0,229.0 643.3,228.8 643.6,228.6 643.9,228.4 644.2,228.1 644.5,227.9 644.8,227.6 645.1,227.3 645.4,227.0 645.7,226.7 646.0,226.4 646.3,226.0 646.7,225.7 647.0,225.3 647.3,224.9 647.6,224.5 647.9,224.1 648.2,223.7 648.5,223.3 648.8,222.9 649.1,222.4 649.4,221.9 649.7,221.3 650.0,220.7 650.3,220.1 650.6,219.4 650.9,218.7 651.2,217.9 651.5,217.1 651.8,216.3 652.1,215.5 652.5,214.7 652.8,213.8 653.1,212.9 653.4,212.1 653.7,211.2 654.0,210.3 654.3,209.3 654.6,208.4 654.9,207.4 655.2,206.3 655.5,205.3 655.8,204.2 656.1,203.1 656.4,202.0 656.7,200.8 657.0,199.6 657.3,198.4 657.6,197.2 658.0,195.9 658.3,194.6 658.6,193.3 658.9,192.0 659.2,190.6 659.5,189.1 659.8,187.6 660.1,186.0 660.4,184.4 660.7,182.7 661.0,181.0 661.3,179.2 661.6,177.4 661.9,175.6 662.2,173.8 662.5,171.9 662.8,170.0 663.1,168.1 663.4,166.2 663.8,164.3 664.1,162.5 664.4,160.6 664.7,158.8 665.0,156.9 665.3,155.1 665.6,153.4 665.9,151.6 666.2,149.8 666.5,148.1 666.8,146.3 667.1,144.5 667.4,142.8 667.7,141.0 668.0,139.2 668.3,137.5 668.6,135.7 668.9,133.9 669.2,132.1 669.6,130.4 669.9,128.6 670.2,126.8 670.5,125.1 670.8,123.3 671.1,121.5 671.4,119.7 671.7,118.0 672.0,116.2 672.3,114.4 672.6,112.6 672.9,110.9 673.2,109.1 673.5,107.3 673.8,105.5 674.1,103.8 674.4,102.0 674.7,100.2 675.1,98.4 675.4,96.7 675.7,94.9 676.0,93.1 676.3,91.3 676.6,89.5 676.9,87.8 677.2,86.0 677.5,84.2 677.8,82.4 678.1,80.6 678.4,78.8 678.7,77.1 679.0,75.3 679.3,73.5 679.6,71.7 679.9,69.9 680.2,68.1 680.5,66.3 680.9,64.6 681.2,62.8 681.5,61.0 681.8,59.2 682.1,57.4 682.4,55.6 682.7,53.8 683.0,52.0 683.3,50.2 683.6,48.5" fill="none" stroke="#0000ff" stroke-width="2.3" stroke-dasharray="5.4 4.5" clip-path="url(#cI)"/><polyline points="592.3,109.8 592.6,110.8 592.9,111.8 593.2,112.9 593.5,113.9 593.8,115.0 594.1,116.1 594.4,117.2 594.7,118.4 595.0,119.5 595.4,120.7 595.7,121.8 596.0,123.0 596.3,124.2 596.6,125.5 596.9,126.7 597.2,127.9 597.5,129.2 597.8,130.5 598.1,131.8 598.4,133.1 598.7,134.4 599.0,135.7 599.3,137.1 599.6,138.4 599.9,139.8 600.2,141.1 600.5,142.5 600.8,143.9 601.2,145.3 601.5,146.8 601.8,148.2 602.1,149.7 602.4,151.1 602.7,152.7 603.0,154.2 603.3,155.8 603.6,157.3 603.9,159.0 604.2,160.6 604.5,162.2 604.8,163.9 605.1,165.6 605.4,167.2 605.7,169.0 606.0,170.7 606.3,172.4 606.7,174.1 607.0,175.9 607.3,177.7 607.6,179.4 607.9,181.2 608.2,183.0 608.5,184.8 608.8,186.6 609.1,188.4 609.4,190.1 609.7,191.9 610.0,193.8 610.3,195.7 610.6,197.7 610.9,199.7 611.2,201.7 611.5,203.7 611.8,205.6 612.1,207.6 612.5,209.4 612.8,211.1 613.1,212.7 613.4,214.3 613.7,215.8 614.0,217.3 614.3,218.8 614.6,220.2 614.9,221.6 615.2,223.0 615.5,224.4 615.8,225.7 616.1,227.0 616.4,228.2 616.7,229.5 617.0,230.7 617.3,231.9 617.6,233.1 617.9,234.2 618.3,235.4 618.6,236.6 618.9,237.8 619.2,239.0 619.5,240.2 619.8,241.4 620.1,242.6 620.4,243.7 620.7,244.8 621.0,245.8 621.3,246.9 621.6,247.8 621.9,248.8 622.2,249.7 622.5,250.5 622.8,251.2 623.1,251.9 623.4,252.5 623.8,253.0 624.1,253.5 624.4,254.0 624.7,254.5 625.0,255.0 625.3,255.4 625.6,255.9 625.9,256.3 626.2,256.8 626.5,257.2 626.8,257.6 627.1,258.1 627.4,258.5 627.7,258.9 628.0,259.2 628.3,259.6 628.6,260.0 628.9,260.3 629.2,260.6 629.6,260.9 629.9,261.2 630.2,261.5 630.5,261.7 630.8,262.0 631.1,262.2 631.4,262.4 631.7,262.6 632.0,262.7 632.3,262.9 632.6,263.0 632.9,263.1 633.2,263.1 633.5,263.2 633.8,263.2 634.1,263.2 634.4,263.1 634.7,263.1 635.0,263.0 635.4,262.9 635.7,262.8 636.0,262.7 636.3,262.6 636.6,262.4 636.9,262.3 637.2,262.1 637.5,261.9 637.8,261.7 638.1,261.4 638.4,261.2 638.7,260.9 639.0,260.7 639.3,260.4 639.6,260.1 639.9,259.8 640.2,259.4 640.5,259.1 640.9,258.8 641.2,258.4 641.5,258.0 641.8,257.7 642.1,257.3 642.4,256.9 642.7,256.5 643.0,256.1 643.3,255.7 643.6,255.2 643.9,254.8 644.2,254.4 644.5,253.9 644.8,253.5 645.1,253.0 645.4,252.5 645.7,251.9 646.0,251.2 646.3,250.5 646.7,249.7 647.0,248.8 647.3,247.8 647.6,246.8 647.9,245.7 648.2,244.6 648.5,243.5 648.8,242.3 649.1,241.2 649.4,239.9 649.7,238.7 650.0,237.5 650.3,236.3 650.6,235.1 650.9,233.9 651.2,232.7 651.5,231.5 651.8,230.3 652.1,229.1 652.5,227.9 652.8,226.7 653.1,225.5 653.4,224.2 653.7,222.9 654.0,221.6 654.3,220.2 654.6,218.8 654.9,217.4 655.2,215.9 655.5,214.3 655.8,212.7 656.1,211.0 656.4,209.2 656.7,207.2 657.0,205.1 657.3,202.9 657.6,200.7 658.0,198.5 658.3,196.3 658.6,194.1 658.9,192.1 659.2,190.2 659.5,188.3 659.8,186.4 660.1,184.4 660.4,182.5 660.7,180.6 661.0,178.7 661.3,176.9 661.6,175.0 661.9,173.2 662.2,171.4 662.5,169.6 662.8,167.8 663.1,166.1 663.4,164.4 663.8,162.7 664.1,161.1 664.4,159.5 664.7,158.0 665.0,156.5 665.3,155.1 665.6,153.7 665.9,152.3 666.2,150.9 666.5,149.5 666.8,148.1 667.1,146.7 667.4,145.4 667.7,144.0 668.0,142.7 668.3,141.3 668.6,140.0 668.9,138.6 669.2,137.3 669.6,136.0 669.9,134.7 670.2,133.4 670.5,132.1 670.8,130.8 671.1,129.5 671.4,128.2 671.7,127.0 672.0,125.7 672.3,124.5 672.6,123.3 672.9,122.1 673.2,120.9 673.5,119.7 673.8,118.5 674.1,117.4 674.4,116.2 674.7,115.1 675.1,114.0 675.4,112.8 675.7,111.8 676.0,110.7 676.3,109.6 676.6,108.6 676.9,107.5 677.2,106.5 677.5,105.5 677.8,104.5 678.1,103.6 678.4,102.6 678.7,101.7 679.0,100.8 679.3,99.9 679.6,99.0 679.9,98.1 680.2,97.3 680.5,96.5 680.9,95.6 681.2,94.9 681.5,94.1 681.8,93.4 682.1,92.6 682.4,91.9 682.7,91.3 683.0,90.6 683.3,90.0 683.6,89.4" fill="none" stroke="#303030" stroke-width="1.25" stroke-dasharray="1.1 2.6" clip-path="url(#cI)"/><path d="M592.30 273.4v-2.5M592.30 191.6v2.5 M637.95 273.4v-2.5M637.95 191.6v2.5 M683.60 273.4v-2.5M683.60 191.6v2.5 M592.3 273.40h2.5M683.6 273.40h-2.5 M592.3 252.95h2.5M683.6 252.95h-2.5 M592.3 232.50h2.5M683.6 232.50h-2.5 M592.3 212.05h2.5M683.6 212.05h-2.5 M592.3 191.60h2.5M683.6 191.60h-2.5" stroke="#262626" stroke-width="0.8" fill="none"/><rect x="592.3" y="191.6" width="91.30000000000007" height="81.79999999999998" fill="none" stroke="#484848" stroke-width="1.2"/><text x="589.80" y="286.80" text-anchor="middle" class="tk">−0.5</text><text x="637.95" y="286.80" text-anchor="middle" class="tk">0</text><text x="683.60" y="286.80" text-anchor="middle" class="tk">0.5</text><text x="589.50" y="277.00" text-anchor="end" class="tk">−0.5</text><text x="589.50" y="256.55" text-anchor="end" class="tk">0</text><text x="589.50" y="236.10" text-anchor="end" class="tk">0.5</text><text x="589.50" y="215.65" text-anchor="end" class="tk">1</text><text x="589.50" y="195.20" text-anchor="end" class="tk">1.5</text><text x="41.36" y="57.90" class="pl">(a)</text><text x="414.30" y="58.80" class="pl">(b)</text><text x="38.36" y="241.50" class="pl">(c)</text><text x="414.30" y="242.50" class="pl">(d)</text><text x="166.68" y="198.70" class="dl">Δ</text><text x="174.68" y="204.40" class="ds">p</text><text x="540.25" y="198.60" class="dl">Δ</text><text x="548.25" y="204.30" class="ds">p</text><text x="166.68" y="381.50" class="dl">Δ</text><text x="174.68" y="387.20" class="ds">p</text><text x="540.25" y="381.20" class="dl">Δ</text><text x="548.25" y="386.90" class="ds">p</text><text transform="translate(10.4,175.3) rotate(-90) scale(1.1571,1)" class="yl">Absorption(First Order)</text><text transform="translate(375.7,176.3) rotate(-90) scale(1.1527,1)" class="yl">Absorption(Third order)</text><text transform="translate(9.9,357.2) rotate(-90) scale(1.1667,1)" class="yl">Absorption(Fifth order)</text><text transform="translate(383.2,337.9) rotate(-90) scale(1.1546,1)" class="yl">Absorption(total)</text><text x="32.2" y="214.8" class="tk" style="font-size:10px">x 10</text><text x="50.8" y="209.0" class="tks">−4</text><rect x="27.8" y="2.0" width="678.4" height="22.3" fill="#fff" stroke="#959595" stroke-width="1"/><line x1="393.7" y1="1.9" x2="706.2" y2="1.9" stroke="#7a7a7a" stroke-width="1.1"/><line x1="41.6" y1="12.9" x2="109.5" y2="12.9" stroke="#ff0000" stroke-width="2"/><line x1="194.5" y1="12.8" x2="260" y2="12.8" stroke="#0000ff" stroke-width="2.3" stroke-dasharray="5.4 4.54"/><line x1="351.4" y1="12.8" x2="419.5" y2="12.8" stroke="#000" stroke-width="0.9" stroke-dasharray="0.9 2.85"/><line x1="529.6" y1="12.8" x2="599.5" y2="12.8" stroke="#00ff00" stroke-width="2" stroke-dasharray="1 3 5.2 2.85"/><text x="116.4" y="15.9" class="lg" textLength="23.4" lengthAdjust="spacingAndGlyphs">WNP</text><text x="269.8" y="15.9" class="lg" textLength="24.6" lengthAdjust="spacingAndGlyphs">52nm</text><text x="426.0" y="15.9" class="lg" textLength="33.6" lengthAdjust="spacingAndGlyphs">41.6nm</text><text x="605.9" y="15.9" class="lg" textLength="33.6" lengthAdjust="spacingAndGlyphs">31.2nm</text></svg>
</body></html>
